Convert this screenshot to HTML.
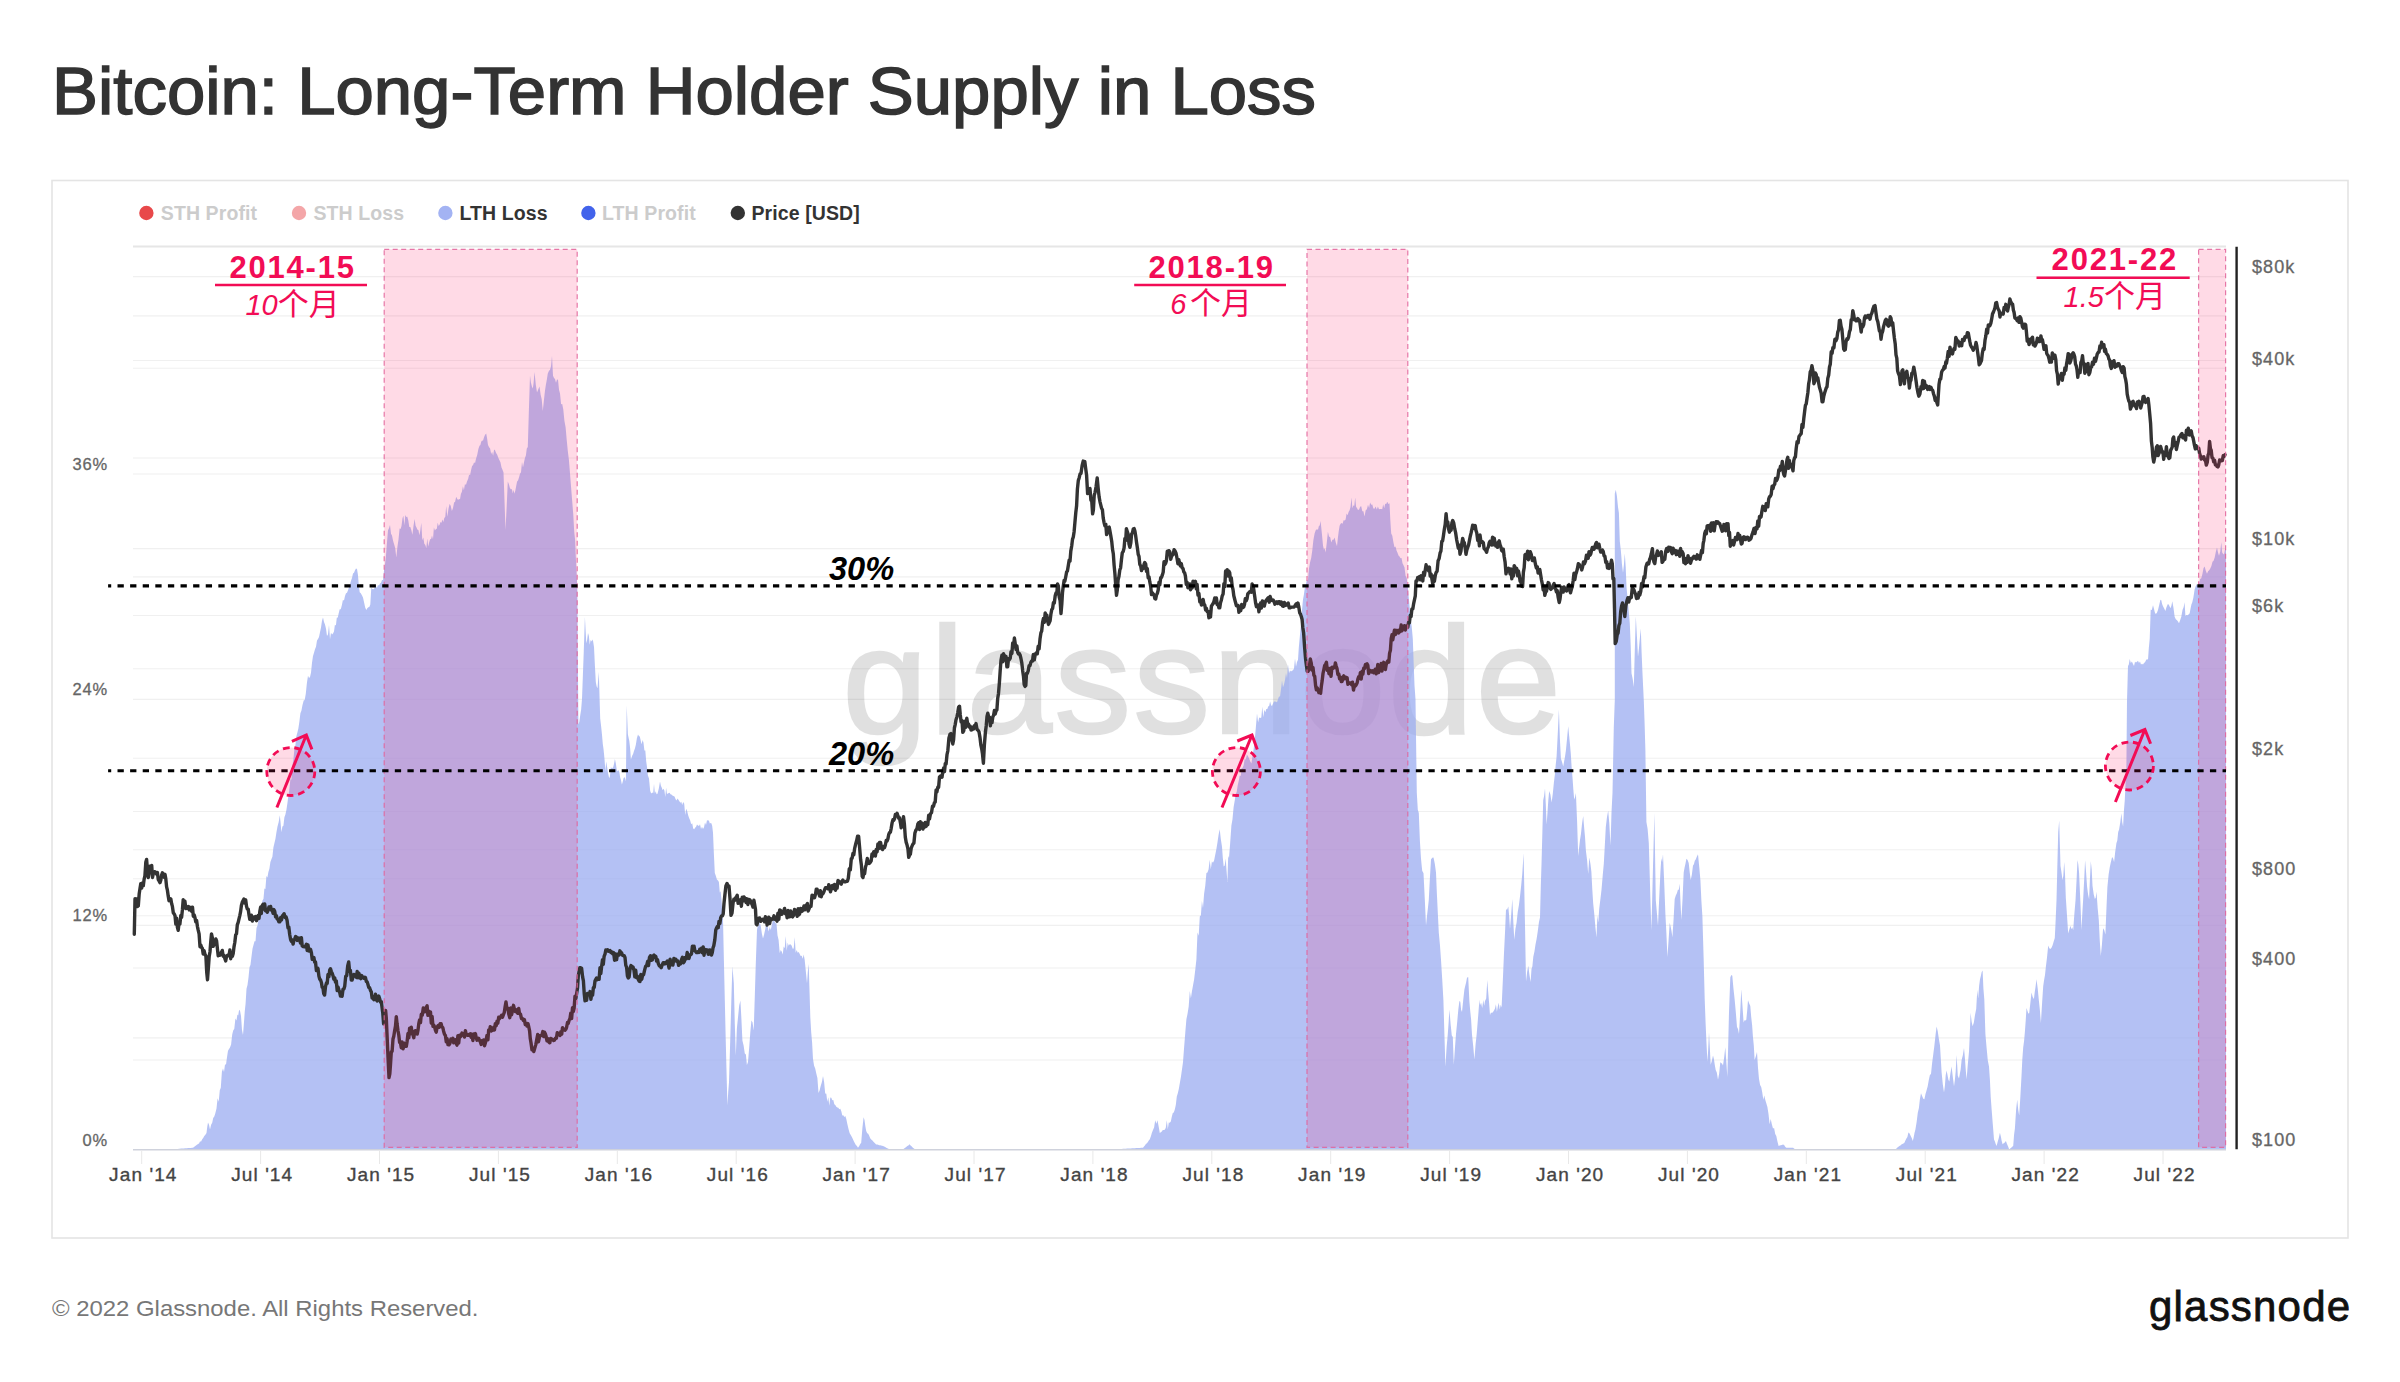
<!DOCTYPE html>
<html lang="en"><head><meta charset="utf-8"><title>Bitcoin: Long-Term Holder Supply in Loss</title>
<style>
html,body{margin:0;padding:0;background:#fff;}
body{width:2400px;height:1382px;overflow:hidden;position:relative;font-family:"Liberation Sans", sans-serif;}
svg{position:absolute;left:0;top:0;display:block;}
text{font-family:"Liberation Sans", sans-serif;}
.cjk{font-family:"Liberation Sans", "Noto Sans CJK SC", sans-serif;}
.ax{fill:#666;stroke:#666;stroke-width:0.3px;font-size:16.5px;letter-spacing:0.85px;}
.rx{fill:#666;stroke:#666;stroke-width:0.3px;font-size:18px;letter-spacing:1.1px;}
.xl{fill:#444;stroke:#444;stroke-width:0.35px;font-size:19px;letter-spacing:1.1px;text-anchor:middle;}
.lg{font-size:19.5px;font-weight:bold;letter-spacing:0.1px;}
.yr{fill:#f20c55;font-size:31px;font-weight:bold;letter-spacing:1.8px;}
.mo{fill:#f20c55;font-size:29px;font-style:italic;}
.mo tspan{font-style:normal;font-size:31px;}
.pc{fill:#000;font-size:32.6px;font-weight:bold;font-style:italic;}
</style></head><body>
<svg width="2400" height="1382" viewBox="0 0 2400 1382">
<rect x="0" y="0" width="2400" height="1382" fill="#fff"/>
<text id="title" x="52" y="113.7" font-size="66.5" fill="#333" stroke="#333" stroke-width="1.5" textLength="1264" lengthAdjust="spacingAndGlyphs">Bitcoin: Long-Term Holder Supply in Loss</text>
<rect x="52" y="180.5" width="2296" height="1057.5" fill="none" stroke="#e4e4e4" stroke-width="1.6"/>
<circle cx="146.4" cy="213" r="7.2" fill="#e8484a"/>
<text class="lg" x="160.8" y="220" fill="#ccc">STH Profit</text>
<circle cx="299" cy="213" r="7.2" fill="#f4a6a8"/>
<text class="lg" x="313.5" y="220" fill="#ccc">STH Loss</text>
<circle cx="445.4" cy="213" r="7.2" fill="#a3b3f3"/>
<text class="lg" x="459.4" y="220" fill="#333">LTH Loss</text>
<circle cx="588.4" cy="213" r="7.2" fill="#4263eb"/>
<text class="lg" x="602" y="220" fill="#ccc">LTH Profit</text>
<circle cx="737.8" cy="213" r="7.2" fill="#333"/>
<text class="lg" x="751.5" y="220" fill="#333">Price [USD]</text>
<g stroke="#f0f0f0" stroke-width="1.1">
<line x1="133" x2="2226" y1="276.6" y2="276.6"/>
<line x1="133" x2="2226" y1="315.9" y2="315.9"/>
<line x1="133" x2="2226" y1="360.5" y2="360.5"/>
<line x1="133" x2="2226" y1="368.2" y2="368.2"/>
<line x1="133" x2="2226" y1="458" y2="458"/>
<line x1="133" x2="2226" y1="474" y2="474"/>
<line x1="133" x2="2226" y1="548.6" y2="548.6"/>
<line x1="133" x2="2226" y1="576.9" y2="576.9"/>
<line x1="133" x2="2226" y1="615.5" y2="615.5"/>
<line x1="133" x2="2226" y1="668.8" y2="668.8"/>
<line x1="133" x2="2226" y1="699.4" y2="699.4"/>
<line x1="133" x2="2226" y1="758.3" y2="758.3"/>
<line x1="133" x2="2226" y1="811.5" y2="811.5"/>
<line x1="133" x2="2226" y1="849.8" y2="849.8"/>
<line x1="133" x2="2226" y1="878.8" y2="878.8"/>
<line x1="133" x2="2226" y1="915.7" y2="915.7"/>
<line x1="133" x2="2226" y1="925.4" y2="925.4"/>
<line x1="133" x2="2226" y1="968" y2="968"/>
<line x1="133" x2="2226" y1="1037.9" y2="1037.9"/>
<line x1="133" x2="2226" y1="1060" y2="1060"/>
</g>
<line x1="133" x2="2226" y1="246.5" y2="246.5" stroke="#e6e6e6" stroke-width="2.2"/>
<text x="842.5" y="733" font-size="153" fill="#000" stroke="#000" stroke-width="2.6" opacity="0.118" letter-spacing="2.6" id="wm">glassnode</text>
<g fill="#9bacf0" fill-opacity="0.75"><path d="M133.3 1150.0 L134.3 1150.0 L135.3 1150.0 L136.3 1150.0 L137.3 1149.9 L138.3 1149.9 L139.3 1149.9 L140.2 1149.9 L141.2 1149.9 L142.2 1149.9 L143.2 1149.9 L144.2 1149.9 L145.2 1149.8 L146.2 1149.8 L147.2 1149.8 L148.2 1149.8 L149.2 1149.8 L150.2 1149.8 L151.2 1149.8 L152.1 1149.7 L153.1 1149.7 L154.1 1149.7 L155.1 1149.7 L156.1 1149.7 L157.1 1149.7 L158.1 1149.7 L159.1 1149.6 L160.1 1149.6 L161.1 1149.6 L162.1 1149.6 L163.1 1149.6 L164.0 1149.6 L165.0 1149.6 L166.0 1149.6 L167.0 1149.5 L168.0 1149.5 L169.0 1149.5 L170.0 1149.5 L171.0 1149.4 L172.0 1149.3 L173.0 1149.3 L174.0 1149.2 L175.0 1149.1 L176.0 1149.0 L177.0 1149.0 L178.0 1148.9 L179.0 1148.8 L180.0 1148.7 L181.0 1148.6 L182.0 1148.6 L183.0 1148.5 L184.0 1148.4 L185.0 1148.3 L186.0 1148.2 L187.0 1148.2 L188.0 1148.1 L189.0 1148.0 L190.0 1147.9 L191.0 1147.9 L192.0 1147.8 L193.0 1147.7 L194.0 1147.0 L195.0 1146.3 L196.0 1145.6 L197.0 1144.7 L198.0 1144.1 L199.0 1143.6 L200.0 1141.4 L201.1 1141.5 L202.2 1139.3 L203.2 1138.1 L204.3 1136.1 L205.4 1134.7 L206.5 1133.0 L207.2 1127.3 L208.0 1122.4 L209.0 1124.8 L210.0 1129.4 L211.1 1124.8 L212.2 1122.7 L213.2 1118.0 L214.3 1116.6 L215.4 1112.9 L216.5 1108.6 L217.6 1098.3 L218.7 1101.8 L219.8 1090.2 L220.8 1087.8 L221.9 1071.8 L223.0 1068.5 L224.0 1072.1 L225.0 1064.4 L226.0 1064.6 L227.0 1057.2 L228.0 1050.8 L229.0 1049.1 L230.0 1047.4 L231.1 1044.4 L232.2 1034.4 L233.2 1030.5 L234.3 1028.8 L235.4 1018.6 L236.5 1020.6 L237.4 1014.5 L238.2 1015.5 L239.1 1009.8 L240.0 1010.8 L241.0 1015.9 L242.0 1030.1 L243.0 1035.0 L243.9 1023.6 L244.8 1010.9 L245.6 1003.5 L246.5 988.8 L247.5 984.9 L248.5 977.4 L249.5 967.2 L250.5 964.7 L251.5 956.6 L252.5 948.7 L253.5 944.9 L254.5 941.2 L255.5 941.2 L256.5 927.9 L257.5 925.6 L258.5 919.8 L259.5 915.6 L260.5 909.8 L261.5 906.1 L262.5 900.6 L263.5 898.7 L264.4 888.5 L265.4 889.0 L266.4 876.1 L267.4 877.5 L268.4 872.0 L269.4 868.8 L270.4 861.9 L271.4 859.2 L272.4 856.8 L273.4 847.6 L274.4 843.2 L275.4 838.9 L276.4 832.4 L277.5 826.4 L278.7 822.1 L279.8 815.2 L280.6 822.7 L281.4 832.3 L282.4 826.6 L283.4 825.8 L284.4 817.2 L285.4 814.5 L286.4 810.1 L287.4 803.3 L288.4 795.7 L289.4 789.1 L290.4 779.3 L291.4 779.5 L292.4 765.4 L293.4 759.7 L294.4 749.0 L295.4 745.2 L296.4 736.3 L297.4 732.6 L298.4 728.3 L299.4 721.6 L300.4 713.2 L301.4 710.7 L302.5 704.9 L303.7 700.5 L304.7 699.9 L305.8 693.8 L306.9 682.9 L308.0 675.7 L309.0 678.0 L310.0 677.1 L311.0 672.8 L312.0 662.8 L313.0 656.1 L314.0 652.8 L315.0 649.2 L316.0 646.8 L317.0 640.5 L318.0 639.1 L319.0 637.1 L320.0 632.2 L321.0 627.6 L322.0 620.8 L323.0 617.5 L324.0 621.9 L325.0 624.6 L326.0 628.7 L327.0 636.0 L328.0 634.3 L329.0 624.9 L330.0 639.2 L331.0 632.7 L332.0 634.6 L333.0 633.4 L334.0 631.5 L334.9 624.7 L335.9 625.6 L336.8 617.7 L337.8 617.5 L338.7 613.3 L339.7 609.2 L340.8 609.3 L341.9 605.1 L342.9 600.1 L344.0 600.4 L345.0 595.9 L346.0 593.3 L347.0 592.8 L348.0 590.2 L349.0 587.3 L350.0 584.4 L351.0 580.8 L352.0 578.1 L353.0 573.4 L354.0 572.7 L355.0 570.2 L356.0 568.4 L357.0 569.1 L357.9 574.4 L358.8 585.1 L359.7 592.3 L360.8 593.3 L361.9 595.2 L363.0 597.5 L364.1 602.5 L365.2 607.6 L366.3 610.1 L367.3 608.3 L368.3 607.3 L369.3 606.9 L370.3 604.4 L371.3 587.5 L372.3 588.9 L373.2 589.2 L374.2 588.7 L375.1 585.3 L376.1 586.8 L377.0 587.8 L378.0 584.9 L379.0 585.4 L380.0 583.4 L381.0 582.7 L382.0 580.1 L383.0 579.9 L384.0 570.5 L385.0 564.4 L386.0 555.0 L387.0 542.2 L388.0 530.3 L389.0 528.2 L390.0 524.9 L391.0 533.7 L392.0 535.4 L393.0 540.5 L394.1 544.3 L395.2 548.0 L396.3 557.4 L397.4 546.9 L398.5 539.6 L399.6 528.4 L400.6 529.1 L401.5 526.0 L402.5 518.3 L403.4 515.8 L404.4 525.3 L405.3 514.9 L406.3 517.0 L407.3 516.8 L408.3 520.4 L409.3 526.9 L410.3 527.0 L411.3 529.9 L412.4 534.7 L413.5 526.0 L414.6 518.9 L415.6 525.8 L416.5 527.4 L417.5 529.7 L418.4 530.0 L419.4 535.3 L420.3 530.4 L421.3 522.7 L422.3 540.3 L423.3 537.6 L424.3 543.7 L425.3 545.1 L426.3 548.0 L427.3 538.4 L428.2 546.6 L429.2 542.3 L430.1 539.2 L431.1 538.9 L432.0 535.5 L433.0 539.3 L433.9 527.5 L434.9 530.6 L435.8 529.2 L436.8 528.7 L437.7 522.7 L438.7 525.9 L439.6 524.7 L440.5 522.1 L441.5 522.8 L442.4 519.5 L443.4 522.1 L444.3 518.0 L445.3 516.7 L446.2 506.0 L447.3 516.7 L448.5 508.8 L449.6 504.1 L450.7 505.7 L451.9 511.0 L453.0 508.0 L454.1 502.4 L455.1 501.7 L456.2 496.8 L457.1 498.8 L458.1 500.0 L459.0 498.9 L460.0 499.2 L460.9 493.9 L461.9 491.7 L462.9 486.3 L463.9 490.3 L464.9 484.3 L466.0 484.8 L467.0 481.6 L468.1 479.1 L469.1 474.7 L470.1 474.9 L471.2 469.6 L472.1 466.0 L473.1 464.9 L474.1 462.3 L475.0 463.2 L476.1 458.5 L477.2 455.1 L478.4 449.0 L479.5 445.8 L480.4 445.1 L481.2 441.8 L482.1 440.6 L483.0 440.8 L484.1 436.9 L485.1 434.8 L486.2 433.5 L487.1 438.6 L488.0 445.0 L489.1 447.3 L490.1 448.6 L491.2 454.0 L492.1 451.8 L493.1 455.8 L494.1 449.4 L495.0 450.3 L496.1 453.0 L497.2 454.7 L498.4 458.0 L499.5 460.2 L500.5 462.6 L501.5 467.4 L502.5 469.7 L503.5 472.4 L504.5 500.7 L505.5 529.9 L506.6 508.3 L507.8 481.5 L508.9 484.3 L509.9 487.9 L511.0 489.5 L511.9 488.9 L512.8 493.5 L513.6 489.7 L514.5 493.7 L515.4 490.2 L516.2 485.9 L517.1 481.6 L518.0 480.4 L519.0 477.5 L520.0 473.7 L521.0 472.2 L522.0 461.9 L523.0 467.5 L524.0 462.2 L525.0 457.8 L525.9 455.6 L526.8 448.5 L527.8 447.1 L528.9 410.1 L530.0 375.7 L530.9 382.5 L531.9 386.5 L532.8 388.6 L533.6 383.0 L534.5 372.1 L535.8 384.8 L537.0 392.6 L538.2 389.5 L539.5 386.4 L540.6 394.5 L541.7 399.2 L542.8 410.9 L543.9 400.6 L545.0 390.4 L545.9 384.7 L546.9 379.2 L547.8 373.4 L548.9 371.0 L550.0 369.7 L551.0 366.2 L552.0 356.0 L553.0 375.8 L554.0 378.1 L555.0 379.1 L556.0 382.7 L557.0 379.6 L558.0 379.7 L559.0 389.8 L560.0 393.4 L561.1 404.3 L562.2 404.1 L563.3 409.4 L564.4 420.8 L565.6 427.3 L566.7 439.7 L567.8 450.9 L568.9 459.7 L570.0 473.3 L571.1 487.6 L572.2 501.3 L573.3 514.9 L574.2 531.6 L575.1 539.8 L576.0 561.1 L577.3 586.7 L578.4 724.3 L579.3 722.1 L580.2 715.6 L581.1 710.1 L582.0 699.1 L582.9 675.0 L583.7 653.2 L584.9 616.9 L586.3 643.2 L587.1 640.0 L588.0 632.9 L588.9 636.3 L589.7 644.8 L590.6 640.1 L591.4 641.4 L592.3 639.4 L593.1 641.2 L594.0 647.1 L594.9 665.5 L595.8 682.0 L596.6 686.2 L597.5 688.3 L598.8 671.9 L600.2 718.6 L601.0 725.2 L601.9 733.8 L602.8 744.0 L603.6 749.7 L604.5 758.9 L605.4 771.2 L606.2 761.4 L607.1 767.0 L608.0 773.1 L608.9 777.0 L609.7 778.1 L610.9 767.1 L612.0 768.4 L613.2 767.3 L614.0 763.9 L614.9 759.1 L615.8 763.3 L616.7 769.5 L617.6 771.3 L618.4 770.0 L619.3 771.9 L620.2 777.6 L621.0 780.2 L621.9 784.4 L622.8 781.6 L623.6 778.1 L624.8 777.3 L625.9 781.2 L626.7 705.5 L627.9 734.6 L629.3 741.0 L630.1 748.1 L630.9 759.5 L632.3 755.4 L633.1 753.9 L634.0 751.1 L634.9 748.4 L635.8 744.9 L636.9 738.3 L638.0 734.4 L638.9 735.9 L639.8 736.6 L640.6 740.0 L641.5 744.2 L642.7 740.1 L643.5 742.7 L644.4 750.6 L645.3 750.5 L646.2 761.3 L647.0 767.1 L647.9 775.6 L649.0 778.4 L650.2 791.1 L651.2 793.6 L652.3 792.5 L653.2 793.0 L654.0 784.0 L654.9 793.6 L655.8 791.3 L656.6 794.3 L657.5 793.7 L658.8 788.4 L660.0 781.5 L660.9 785.7 L661.8 787.8 L662.7 790.3 L663.5 788.8 L664.4 790.6 L665.3 796.9 L666.1 787.8 L667.0 793.9 L667.9 793.5 L668.8 793.1 L669.6 792.8 L670.5 794.3 L671.4 794.4 L672.4 795.5 L673.4 796.0 L674.5 796.4 L675.5 799.1 L676.5 800.6 L677.5 798.6 L678.4 799.8 L679.4 801.3 L680.3 802.7 L681.3 801.8 L682.2 805.0 L683.2 802.1 L684.2 803.8 L685.2 815.0 L686.2 808.8 L687.2 811.3 L688.2 815.6 L689.2 818.2 L690.2 820.6 L691.2 824.2 L692.2 823.2 L693.2 828.4 L694.2 829.2 L695.1 827.7 L696.1 826.8 L697.0 824.5 L698.0 825.4 L699.0 825.9 L700.0 824.2 L701.0 829.1 L702.0 826.7 L703.0 829.0 L704.0 827.3 L705.0 822.6 L706.0 824.9 L707.0 820.2 L708.0 820.6 L708.9 820.6 L709.8 823.4 L710.6 823.0 L711.5 823.4 L712.2 826.1 L713.0 832.7 L713.9 854.2 L714.8 872.9 L715.9 875.9 L716.9 879.5 L718.0 880.4 L718.9 882.1 L719.8 892.4 L720.6 891.2 L721.5 900.0 L722.2 910.3 L723.0 919.7 L723.9 960.4 L724.8 999.6 L725.6 1034.5 L726.4 1066.7 L727.4 1105.6 L728.2 1092.5 L729.0 1082.3 L730.4 1034.0 L731.4 998.0 L732.4 966.2 L733.8 983.0 L734.8 1023.8 L735.8 1055.8 L736.9 1028.3 L738.0 1017.4 L739.2 1005.6 L740.4 1000.6 L741.4 1018.7 L742.4 1040.6 L743.6 1045.4 L744.8 1053.4 L745.9 1054.6 L746.9 1065.1 L748.0 1061.9 L749.1 1048.7 L750.3 1032.4 L751.4 1020.4 L752.5 1022.3 L753.7 1030.6 L754.7 999.3 L755.7 966.4 L757.0 929.7 L757.9 925.5 L758.8 926.3 L759.7 922.1 L760.8 926.3 L761.9 933.8 L763.0 938.5 L764.1 934.6 L765.3 929.0 L766.4 922.4 L767.5 925.8 L768.6 931.6 L769.7 927.1 L770.8 930.1 L771.9 924.6 L773.0 920.2 L774.1 919.7 L775.3 923.4 L776.4 922.5 L777.5 935.3 L778.6 940.1 L779.7 952.9 L780.7 950.1 L781.7 951.5 L782.7 954.5 L783.7 946.5 L784.7 948.2 L785.7 935.9 L786.7 950.8 L787.7 942.8 L788.7 945.8 L789.7 944.2 L790.7 944.5 L791.7 945.7 L792.7 948.7 L793.7 948.6 L794.7 937.2 L795.7 952.7 L796.7 950.0 L797.7 952.7 L798.7 952.1 L799.7 954.1 L800.7 955.9 L801.7 955.7 L802.7 958.8 L803.7 954.4 L804.7 960.0 L805.9 972.0 L807.0 983.3 L807.9 970.9 L808.7 963.9 L809.5 990.3 L810.3 1016.9 L811.2 1032.2 L812.1 1042.6 L813.0 1059.1 L814.1 1065.8 L815.2 1068.4 L816.3 1073.5 L817.4 1077.9 L818.5 1093.0 L819.6 1090.5 L820.7 1086.1 L821.9 1082.1 L823.0 1076.1 L824.1 1081.9 L825.2 1093.5 L826.3 1093.7 L827.3 1101.8 L828.3 1097.3 L829.3 1105.8 L830.3 1097.5 L831.3 1097.7 L832.3 1100.2 L833.3 1099.9 L834.3 1104.2 L835.3 1105.1 L836.3 1106.7 L837.3 1107.4 L838.3 1107.8 L839.3 1109.2 L840.3 1108.8 L841.3 1111.3 L842.3 1115.4 L843.3 1115.2 L844.3 1117.0 L845.3 1116.1 L846.3 1119.0 L847.4 1124.2 L848.5 1129.0 L849.6 1133.0 L850.6 1134.7 L851.6 1136.4 L852.6 1138.4 L853.6 1140.8 L854.6 1142.7 L855.7 1144.7 L856.9 1146.0 L858.0 1147.7 L859.1 1146.2 L860.1 1144.3 L861.2 1142.8 L862.4 1128.1 L863.6 1117.2 L864.5 1119.9 L865.3 1125.9 L866.2 1130.9 L867.2 1133.3 L868.2 1133.7 L869.2 1135.8 L870.2 1138.2 L871.2 1139.4 L872.2 1140.2 L873.2 1141.6 L874.2 1142.4 L875.2 1143.4 L876.2 1144.5 L877.2 1144.5 L878.1 1144.8 L879.1 1145.2 L880.1 1145.3 L881.1 1145.5 L882.0 1145.8 L883.0 1146.0 L884.1 1146.5 L885.2 1147.1 L886.2 1147.7 L887.3 1148.3 L888.4 1148.8 L889.5 1149.4 L890.5 1149.4 L891.4 1149.4 L892.4 1149.4 L893.4 1149.4 L894.3 1149.4 L895.3 1149.4 L896.2 1149.4 L897.2 1149.4 L898.2 1149.4 L899.1 1149.4 L900.1 1149.4 L901.1 1149.4 L902.0 1149.4 L903.0 1149.4 L904.1 1148.6 L905.2 1147.7 L906.2 1146.9 L907.3 1145.9 L908.4 1145.4 L909.5 1144.3 L910.6 1145.5 L911.8 1146.6 L912.9 1147.7 L913.9 1148.5 L915.0 1149.2 L916.0 1150.0 L916.0 1150 L133.3 1150 Z"/><path d="M1100.0 1150.0 L1101.0 1150.0 L1102.0 1149.9 L1103.0 1149.9 L1104.0 1149.8 L1105.0 1149.8 L1106.0 1149.7 L1107.0 1149.7 L1108.0 1149.6 L1109.0 1149.6 L1110.0 1149.5 L1111.0 1149.5 L1112.0 1149.4 L1113.0 1149.4 L1114.0 1149.3 L1115.0 1149.3 L1116.0 1149.2 L1117.0 1149.2 L1118.0 1149.1 L1119.0 1149.1 L1120.0 1149.0 L1121.0 1148.9 L1122.0 1148.9 L1123.0 1148.8 L1124.0 1148.8 L1125.0 1148.7 L1126.0 1148.7 L1127.0 1148.6 L1128.0 1148.6 L1129.0 1148.5 L1130.0 1148.4 L1131.0 1148.4 L1132.0 1148.3 L1133.0 1148.3 L1134.0 1148.2 L1135.0 1148.2 L1136.0 1148.1 L1137.0 1148.0 L1138.0 1148.0 L1139.0 1147.9 L1140.0 1147.9 L1141.0 1147.8 L1142.0 1147.8 L1143.0 1147.7 L1144.0 1146.5 L1144.9 1145.4 L1145.9 1143.9 L1146.9 1143.3 L1147.9 1141.9 L1148.8 1140.6 L1149.8 1139.3 L1150.9 1136.3 L1151.9 1132.7 L1153.0 1129.9 L1154.1 1127.5 L1155.2 1120.3 L1156.4 1123.8 L1157.5 1120.3 L1158.7 1126.7 L1159.8 1132.9 L1160.8 1132.3 L1161.8 1131.6 L1162.8 1129.9 L1163.8 1130.0 L1164.8 1129.7 L1165.8 1127.8 L1166.8 1120.3 L1167.8 1129.1 L1168.8 1122.6 L1169.8 1122.8 L1170.8 1121.6 L1171.8 1116.8 L1172.8 1113.1 L1173.8 1112.5 L1174.8 1109.6 L1175.8 1105.1 L1176.8 1096.5 L1177.8 1093.2 L1178.8 1089.0 L1179.8 1083.3 L1180.9 1077.0 L1181.9 1070.1 L1183.0 1062.2 L1184.1 1047.4 L1185.3 1032.6 L1186.4 1019.2 L1187.5 1014.1 L1188.7 1006.6 L1189.8 991.1 L1190.9 998.2 L1191.9 991.5 L1193.0 985.6 L1194.1 979.6 L1195.3 969.6 L1196.4 959.6 L1197.5 932.4 L1198.7 935.8 L1199.8 916.6 L1200.9 915.2 L1201.9 900.9 L1203.0 908.0 L1204.1 893.8 L1205.3 885.6 L1206.4 872.9 L1207.5 872.4 L1208.6 869.2 L1209.7 859.8 L1210.8 869.3 L1211.9 861.4 L1213.0 862.7 L1214.1 860.6 L1215.3 854.6 L1216.4 849.0 L1217.5 842.2 L1218.6 834.7 L1219.7 829.3 L1220.8 839.0 L1222.0 846.7 L1222.8 857.7 L1223.7 866.4 L1224.7 865.5 L1225.7 858.5 L1226.6 871.3 L1227.4 882.0 L1228.2 856.1 L1229.0 858.1 L1230.2 842.4 L1231.4 825.6 L1232.5 819.2 L1233.6 807.2 L1234.7 800.7 L1235.7 794.0 L1236.7 792.1 L1237.7 785.3 L1238.7 781.1 L1239.7 775.6 L1240.7 775.9 L1241.7 768.1 L1242.7 767.8 L1243.7 764.9 L1244.7 758.9 L1245.8 759.4 L1246.9 754.5 L1248.0 756.2 L1249.1 758.6 L1250.3 761.6 L1251.4 763.6 L1252.5 756.1 L1253.6 749.4 L1254.7 740.3 L1255.8 727.9 L1257.0 713.4 L1258.1 722.4 L1259.2 717.4 L1260.2 718.0 L1261.3 717.6 L1262.3 706.7 L1263.3 717.2 L1264.3 709.8 L1265.3 712.3 L1266.3 709.0 L1267.3 709.0 L1268.2 706.6 L1269.2 705.8 L1270.1 701.6 L1271.1 705.3 L1272.0 705.9 L1273.0 703.5 L1274.0 701.5 L1275.0 701.6 L1276.0 701.8 L1277.0 702.2 L1278.0 699.3 L1279.0 696.5 L1280.0 696.6 L1281.0 689.3 L1282.0 680.6 L1283.0 687.3 L1284.0 684.5 L1285.0 680.0 L1286.0 672.9 L1287.0 677.9 L1288.0 664.4 L1289.0 673.3 L1290.0 670.6 L1291.0 671.6 L1292.0 670.7 L1293.0 670.3 L1294.0 668.6 L1295.0 658.6 L1296.0 666.8 L1297.0 661.9 L1298.0 659.8 L1298.8 647.8 L1299.6 639.1 L1300.7 627.5 L1301.9 611.2 L1303.0 599.4 L1303.9 594.8 L1304.7 588.6 L1305.6 586.3 L1306.7 579.8 L1307.9 580.6 L1309.0 568.6 L1310.1 562.3 L1311.2 558.0 L1312.3 550.3 L1313.4 540.1 L1314.6 533.4 L1315.7 530.2 L1316.9 529.3 L1318.0 529.7 L1318.9 525.9 L1319.7 525.5 L1320.6 521.1 L1321.8 532.7 L1323.0 545.4 L1323.9 549.7 L1324.7 548.3 L1325.6 552.6 L1326.7 543.4 L1327.9 531.7 L1329.0 536.5 L1330.2 537.2 L1331.3 542.4 L1332.4 539.8 L1333.5 539.7 L1334.6 537.6 L1335.8 542.6 L1337.0 546.3 L1337.9 537.8 L1338.7 531.5 L1339.6 525.7 L1340.6 523.7 L1341.6 523.1 L1342.6 523.8 L1343.6 520.2 L1344.6 520.5 L1345.6 519.4 L1346.6 513.5 L1347.6 515.2 L1348.6 512.0 L1349.6 510.3 L1350.5 506.9 L1351.5 497.6 L1352.4 508.3 L1353.3 505.5 L1354.3 505.7 L1355.2 497.5 L1356.1 506.8 L1357.1 508.3 L1358.0 510.1 L1359.1 509.5 L1360.1 506.7 L1361.2 506.3 L1362.3 511.2 L1363.4 511.3 L1364.5 516.5 L1365.7 510.3 L1366.9 509.3 L1368.0 504.7 L1369.1 508.1 L1370.1 502.6 L1371.2 504.7 L1372.3 504.4 L1373.4 508.6 L1374.5 508.8 L1375.6 506.5 L1376.8 509.4 L1377.9 506.5 L1379.0 509.3 L1380.1 508.9 L1381.2 509.1 L1382.2 509.3 L1383.2 504.2 L1384.2 508.3 L1385.2 503.7 L1386.2 503.9 L1387.3 501.8 L1388.4 504.1 L1389.5 503.2 L1390.3 519.7 L1391.2 533.6 L1392.3 535.7 L1393.4 542.2 L1394.5 547.2 L1395.5 546.4 L1396.5 550.6 L1397.5 552.8 L1398.5 555.4 L1399.5 556.6 L1400.5 558.3 L1401.5 558.0 L1402.5 563.3 L1403.5 565.3 L1404.5 567.4 L1405.6 576.1 L1406.7 577.9 L1407.8 586.2 L1408.7 596.8 L1409.5 605.8 L1410.6 619.2 L1411.7 626.5 L1412.8 638.8 L1413.7 663.9 L1414.5 685.6 L1415.5 699.5 L1416.8 792.7 L1417.8 809.7 L1418.8 813.1 L1419.9 840.9 L1421.0 858.8 L1422.2 870.8 L1423.5 873.3 L1424.8 899.6 L1426.0 925.4 L1426.9 916.8 L1427.9 908.3 L1428.8 899.7 L1429.9 878.2 L1431.0 859.6 L1432.2 857.8 L1433.5 857.4 L1434.8 863.7 L1436.0 872.5 L1436.9 894.0 L1437.9 914.8 L1438.8 932.7 L1439.9 944.6 L1441.0 959.8 L1442.2 978.9 L1443.4 999.9 L1444.4 1033.9 L1445.4 1066.7 L1446.6 1047.6 L1447.8 1034.0 L1448.6 1022.8 L1449.4 1009.4 L1450.6 1024.0 L1451.8 1035.4 L1452.8 1037.1 L1453.8 1064.7 L1454.9 1048.8 L1456.0 1033.9 L1457.1 1023.1 L1458.3 1009.7 L1459.4 1000.9 L1460.3 1001.7 L1461.1 1009.7 L1462.0 1012.0 L1463.2 1000.2 L1464.4 989.6 L1465.3 985.8 L1466.1 982.4 L1467.0 977.7 L1468.2 977.1 L1469.4 1001.6 L1470.3 1011.8 L1471.1 1019.5 L1472.0 1034.4 L1473.2 1046.1 L1474.4 1059.4 L1475.6 1044.2 L1476.7 1034.0 L1477.6 1023.0 L1478.5 1011.8 L1479.4 999.8 L1480.0 1005.2 L1481.1 1002.8 L1482.2 1008.1 L1483.3 1000.0 L1484.2 1005.7 L1485.0 1001.1 L1486.2 998.4 L1487.3 980.0 L1488.2 992.3 L1489.1 1002.7 L1490.0 1015.1 L1491.0 1012.5 L1492.0 1012.9 L1493.0 1011.9 L1494.0 1010.6 L1495.0 1008.6 L1495.9 1004.3 L1496.9 1011.7 L1497.8 1006.4 L1498.8 1002.8 L1499.7 1009.4 L1500.7 1004.7 L1501.6 1007.5 L1502.8 981.3 L1504.0 953.0 L1505.0 932.7 L1506.0 909.5 L1507.2 909.4 L1508.3 906.5 L1509.2 916.4 L1510.0 929.0 L1511.2 914.3 L1512.3 899.0 L1513.3 921.7 L1514.3 939.8 L1515.4 929.1 L1516.6 922.5 L1517.7 912.2 L1518.9 905.3 L1520.0 896.4 L1521.2 885.2 L1522.3 873.6 L1523.6 853.3 L1525.0 924.8 L1526.0 981.5 L1527.2 971.4 L1528.3 965.7 L1529.4 974.5 L1530.6 982.1 L1531.5 968.9 L1532.4 966.2 L1533.3 956.7 L1534.4 951.8 L1535.5 944.5 L1536.6 939.0 L1537.7 931.8 L1538.9 922.5 L1540.0 917.2 L1540.8 886.4 L1541.6 860.9 L1542.4 831.3 L1543.2 800.2 L1544.1 796.0 L1545.0 788.5 L1545.8 804.6 L1546.6 824.4 L1547.5 812.5 L1548.3 800.4 L1549.2 790.9 L1550.4 794.4 L1551.6 802.5 L1552.8 793.7 L1553.9 782.6 L1554.8 775.2 L1555.7 765.0 L1556.6 756.6 L1557.8 732.9 L1558.9 709.6 L1559.9 739.1 L1560.9 758.4 L1562.1 762.3 L1563.2 766.4 L1564.1 761.6 L1565.0 756.8 L1565.9 750.4 L1567.1 738.3 L1568.2 726.3 L1569.1 735.6 L1569.9 743.5 L1570.8 753.5 L1571.6 766.7 L1572.5 777.5 L1573.3 788.9 L1574.2 799.6 L1575.1 796.9 L1575.9 793.1 L1577.1 821.4 L1578.2 856.0 L1579.1 847.8 L1580.0 839.9 L1580.9 834.2 L1582.1 823.2 L1583.2 815.9 L1584.1 826.9 L1585.0 836.8 L1585.9 850.8 L1587.1 860.2 L1588.2 873.9 L1589.3 857.6 L1590.5 864.3 L1591.4 872.1 L1592.3 889.6 L1593.2 903.5 L1594.3 914.2 L1595.4 927.3 L1596.5 937.4 L1597.4 915.4 L1598.3 922.6 L1599.2 909.0 L1600.3 900.1 L1601.5 889.7 L1602.7 875.7 L1603.8 863.8 L1604.8 845.8 L1605.8 827.0 L1607.0 817.1 L1608.2 810.8 L1609.3 823.3 L1610.5 845.5 L1611.5 812.6 L1612.5 792.8 L1613.8 727.1 L1614.8 700.1 L1614.8 493.7 L1615.8 489.8 L1616.9 496.0 L1618.0 506.9 L1618.9 512.9 L1619.8 541.2 L1620.9 551.1 L1621.9 563.7 L1623.0 572.7 L1623.9 564.9 L1624.8 553.5 L1625.7 567.1 L1626.5 586.9 L1627.6 598.4 L1628.7 610.9 L1629.8 623.6 L1630.7 645.6 L1631.5 673.2 L1632.7 679.0 L1633.8 687.0 L1634.8 650.3 L1635.8 616.2 L1636.9 636.0 L1638.0 656.7 L1638.9 648.8 L1639.9 637.7 L1640.8 628.5 L1641.6 652.3 L1642.4 671.5 L1643.8 700.8 L1644.6 723.2 L1645.4 750.8 L1646.4 822.0 L1647.6 828.8 L1648.8 843.1 L1649.6 870.4 L1650.4 899.0 L1651.4 930.4 L1652.2 898.9 L1653.0 866.5 L1654.4 813.0 L1655.8 900.3 L1656.9 913.0 L1658.0 925.6 L1659.2 898.2 L1660.4 872.4 L1661.3 858.3 L1662.1 861.9 L1663.0 854.2 L1664.2 882.5 L1665.4 913.9 L1666.4 933.4 L1667.4 957.1 L1668.6 940.1 L1669.7 922.8 L1670.6 926.5 L1671.5 930.9 L1672.4 937.2 L1673.6 919.0 L1674.7 899.1 L1675.8 895.6 L1677.0 893.0 L1677.9 889.8 L1678.8 889.7 L1679.7 883.7 L1680.6 904.7 L1681.4 920.1 L1682.6 898.3 L1683.7 872.6 L1684.6 867.6 L1685.5 863.6 L1686.4 858.8 L1687.6 860.1 L1688.7 863.0 L1689.7 872.2 L1690.7 880.1 L1691.8 875.1 L1693.0 865.6 L1693.9 864.2 L1694.8 860.8 L1695.7 859.6 L1696.8 856.8 L1698.0 854.2 L1699.2 866.5 L1700.4 880.1 L1701.4 901.1 L1702.4 916.6 L1703.6 956.7 L1704.7 999.1 L1705.6 1022.9 L1706.5 1043.6 L1707.4 1061.7 L1708.2 1049.6 L1709.0 1032.4 L1709.8 1047.6 L1710.7 1064.8 L1711.8 1060.9 L1713.0 1055.4 L1713.9 1059.0 L1714.8 1065.0 L1715.7 1069.9 L1716.8 1072.4 L1718.0 1079.8 L1719.2 1073.2 L1720.3 1062.3 L1721.2 1063.1 L1722.1 1063.8 L1723.0 1065.4 L1724.2 1056.9 L1725.3 1047.3 L1726.3 1061.3 L1727.3 1077.1 L1728.2 1044.9 L1729.0 1012.2 L1730.3 977.4 L1731.3 975.1 L1732.3 975.8 L1733.4 988.1 L1734.6 999.1 L1735.8 1012.1 L1737.0 1027.0 L1738.0 1029.1 L1739.0 1034.1 L1740.2 1012.6 L1741.3 989.2 L1742.4 1004.8 L1743.6 1022.5 L1744.5 1020.3 L1745.4 1020.4 L1746.3 1019.8 L1747.2 1010.5 L1748.0 1000.2 L1749.2 1003.6 L1750.3 1006.1 L1751.2 1017.1 L1752.1 1025.1 L1753.0 1037.4 L1753.8 1045.6 L1754.6 1059.9 L1755.8 1056.6 L1757.0 1052.1 L1758.0 1068.0 L1759.0 1078.9 L1760.1 1085.0 L1761.2 1087.0 L1762.3 1092.7 L1763.3 1099.8 L1764.3 1095.6 L1765.3 1100.1 L1766.3 1103.2 L1767.4 1107.0 L1768.5 1114.0 L1769.6 1124.3 L1770.7 1118.9 L1771.9 1124.5 L1773.0 1128.4 L1774.1 1128.1 L1775.2 1134.0 L1776.3 1136.0 L1777.4 1141.2 L1778.6 1146.0 L1779.7 1145.6 L1780.8 1145.2 L1781.9 1144.9 L1783.0 1144.4 L1784.1 1145.0 L1785.2 1146.7 L1786.3 1147.7 L1787.3 1147.7 L1788.2 1147.7 L1789.2 1147.7 L1790.1 1147.7 L1791.1 1147.7 L1792.0 1147.7 L1793.0 1147.7 L1794.0 1148.5 L1795.0 1149.2 L1796.0 1150.0 L1796.0 1150 L1100.0 1150 Z"/><path d="M1894.5 1150.0 L1895.5 1149.2 L1896.5 1148.4 L1897.4 1147.6 L1898.4 1146.8 L1899.4 1146.0 L1900.4 1145.4 L1901.4 1144.6 L1902.4 1143.9 L1903.4 1143.5 L1904.4 1142.7 L1905.4 1140.5 L1906.4 1138.4 L1907.4 1137.0 L1908.4 1132.4 L1909.4 1133.3 L1910.5 1135.6 L1911.7 1138.1 L1912.8 1140.9 L1913.7 1137.3 L1914.5 1133.1 L1915.4 1129.4 L1916.6 1122.3 L1917.8 1112.8 L1918.9 1108.1 L1919.9 1099.3 L1921.0 1093.2 L1922.1 1096.0 L1923.3 1098.8 L1924.4 1099.3 L1925.5 1094.1 L1926.6 1090.2 L1927.7 1086.2 L1928.8 1080.0 L1929.9 1074.9 L1931.0 1074.0 L1932.1 1063.3 L1933.3 1054.1 L1934.4 1045.6 L1935.5 1035.2 L1936.6 1026.4 L1937.7 1030.9 L1938.8 1038.4 L1940.0 1045.5 L1940.8 1058.8 L1941.6 1072.3 L1942.8 1084.3 L1944.0 1092.4 L1944.9 1085.8 L1945.7 1075.2 L1946.6 1070.5 L1947.5 1075.1 L1948.4 1079.8 L1949.3 1081.5 L1950.4 1073.6 L1951.6 1066.6 L1952.8 1076.7 L1954.0 1086.2 L1954.9 1079.7 L1955.7 1071.3 L1956.6 1055.1 L1957.8 1075.8 L1959.0 1078.6 L1959.9 1073.6 L1960.7 1069.2 L1961.6 1060.1 L1962.8 1055.5 L1964.0 1047.9 L1964.9 1057.9 L1965.7 1069.2 L1966.6 1079.2 L1967.8 1064.4 L1969.0 1051.8 L1969.8 1033.5 L1970.6 1012.8 L1971.6 1021.4 L1972.6 1026.3 L1973.8 1022.7 L1975.0 1015.1 L1976.2 1009.0 L1977.3 990.0 L1978.2 998.4 L1979.1 986.0 L1980.0 979.3 L1980.9 975.8 L1981.7 972.0 L1982.6 970.4 L1983.4 988.6 L1984.3 999.2 L1985.4 1034.0 L1986.6 1047.7 L1987.8 1060.6 L1989.0 1066.6 L1989.9 1079.4 L1990.7 1096.8 L1991.6 1108.9 L1992.8 1124.2 L1994.0 1139.6 L1994.9 1141.4 L1995.7 1143.9 L1996.6 1146.0 L1997.7 1141.8 L1998.8 1137.9 L1999.9 1132.8 L2000.8 1136.3 L2001.7 1140.9 L2002.6 1144.3 L2003.7 1143.2 L2004.8 1142.4 L2005.9 1141.0 L2007.0 1144.0 L2008.1 1146.6 L2009.2 1149.4 L2010.2 1148.6 L2011.2 1147.7 L2012.2 1146.8 L2013.2 1146.0 L2014.1 1134.6 L2014.9 1128.4 L2016.1 1109.7 L2017.2 1099.8 L2018.2 1109.4 L2019.2 1115.4 L2020.3 1097.7 L2021.5 1076.0 L2022.3 1059.7 L2023.2 1047.4 L2024.1 1040.7 L2024.9 1031.7 L2025.7 1020.8 L2026.5 1007.9 L2027.4 1010.8 L2028.3 1013.4 L2029.2 1013.3 L2030.3 1003.4 L2031.5 992.6 L2032.7 997.1 L2033.9 998.9 L2034.8 991.7 L2035.6 986.6 L2036.5 979.2 L2037.7 988.6 L2038.9 1000.8 L2039.9 1010.3 L2040.9 1023.0 L2042.1 1003.1 L2043.2 986.2 L2044.1 979.9 L2045.0 975.0 L2045.9 966.5 L2047.0 957.4 L2048.2 945.4 L2049.3 948.3 L2050.4 949.1 L2051.5 947.8 L2052.6 945.2 L2053.7 941.5 L2054.8 937.9 L2055.7 919.3 L2056.5 900.3 L2057.3 868.0 L2058.2 832.3 L2059.2 820.4 L2060.5 866.0 L2061.5 872.5 L2062.5 880.0 L2063.3 875.7 L2064.2 861.9 L2065.0 874.0 L2065.8 897.4 L2067.0 915.5 L2068.2 933.4 L2069.3 929.5 L2070.5 925.8 L2071.4 929.2 L2072.3 927.3 L2073.2 930.3 L2074.3 914.8 L2075.5 900.6 L2076.5 881.3 L2077.5 860.0 L2078.3 864.6 L2079.1 873.1 L2080.3 899.9 L2081.5 930.1 L2082.3 913.7 L2083.1 900.6 L2084.1 881.2 L2085.1 860.3 L2086.1 872.4 L2087.1 887.1 L2088.1 894.6 L2089.1 899.3 L2089.9 879.8 L2090.8 861.2 L2091.7 869.4 L2092.5 885.8 L2093.7 894.3 L2094.8 898.8 L2095.7 898.0 L2096.5 891.8 L2097.7 908.5 L2098.8 920.0 L2099.8 941.2 L2100.8 955.9 L2101.9 945.1 L2103.1 928.3 L2104.2 930.0 L2105.4 934.6 L2106.4 909.6 L2107.4 886.9 L2108.6 874.8 L2109.8 866.9 L2110.9 861.9 L2112.1 857.1 L2113.1 858.4 L2114.1 862.1 L2115.2 852.0 L2116.4 843.2 L2117.3 840.4 L2118.2 832.1 L2119.1 829.5 L2120.2 822.7 L2121.4 813.3 L2122.2 822.0 L2123.1 826.6 L2123.9 811.1 L2124.8 800.0 L2125.6 782.0 L2126.4 766.0 L2127.0 701.1 L2128.0 666.0 L2128.8 664.6 L2129.7 658.9 L2130.8 663.1 L2131.9 661.4 L2133.0 664.0 L2134.0 666.0 L2135.0 661.8 L2136.0 662.5 L2137.0 661.7 L2138.0 660.8 L2139.0 663.1 L2140.0 661.4 L2141.0 664.4 L2142.0 663.8 L2143.0 664.5 L2144.0 663.1 L2145.0 662.2 L2146.0 660.2 L2147.0 658.9 L2148.0 659.7 L2148.8 648.2 L2149.7 639.0 L2150.7 609.7 L2151.8 609.9 L2153.0 605.3 L2153.9 608.5 L2154.8 612.2 L2155.7 614.1 L2156.8 613.0 L2158.0 610.1 L2159.2 604.9 L2160.4 599.7 L2161.3 600.2 L2162.1 604.1 L2163.0 606.2 L2164.2 608.5 L2165.4 610.9 L2166.3 607.8 L2167.1 605.7 L2168.0 603.7 L2169.2 605.5 L2170.4 608.3 L2171.4 605.7 L2172.3 601.3 L2173.5 608.0 L2174.7 616.9 L2175.8 619.2 L2177.0 620.2 L2178.0 621.4 L2179.0 623.3 L2180.2 620.0 L2181.3 616.8 L2182.5 610.0 L2183.7 607.1 L2184.6 602.3 L2185.4 615.9 L2186.3 614.9 L2187.4 615.2 L2188.6 614.6 L2189.7 613.3 L2190.6 608.3 L2191.4 604.4 L2192.3 602.3 L2193.4 597.5 L2194.6 589.4 L2195.7 586.2 L2196.9 583.9 L2198.0 586.5 L2199.1 583.6 L2200.2 579.1 L2201.3 578.2 L2202.4 574.1 L2203.5 568.2 L2204.6 566.4 L2205.8 570.7 L2207.0 573.8 L2208.1 571.3 L2209.2 570.2 L2210.3 568.5 L2211.4 566.0 L2212.5 561.8 L2213.6 560.7 L2214.7 557.5 L2215.9 551.6 L2217.0 547.4 L2218.0 552.4 L2219.0 555.7 L2220.2 551.7 L2221.3 542.3 L2222.2 552.5 L2223.0 553.7 L2224.0 554.5 L2225.0 549.6 L2226.0 548.6 L2226.0 1150.0 L2226.0 1150 L1894.5 1150 Z"/></g>
<line x1="133" x2="2226" y1="1149.7" y2="1149.7" stroke="#cfd2dc" stroke-width="1.4"/>
<g stroke="#e8e8e8" stroke-width="1">
<line x1="141.7" x2="141.7" y1="1150.5" y2="1164"/>
<line x1="260.6" x2="260.6" y1="1150.5" y2="1164"/>
<line x1="379.5" x2="379.5" y1="1150.5" y2="1164"/>
<line x1="498.4" x2="498.4" y1="1150.5" y2="1164"/>
<line x1="617.3" x2="617.3" y1="1150.5" y2="1164"/>
<line x1="736.2" x2="736.2" y1="1150.5" y2="1164"/>
<line x1="855.1" x2="855.1" y1="1150.5" y2="1164"/>
<line x1="974.0" x2="974.0" y1="1150.5" y2="1164"/>
<line x1="1092.9" x2="1092.9" y1="1150.5" y2="1164"/>
<line x1="1211.8" x2="1211.8" y1="1150.5" y2="1164"/>
<line x1="1330.7" x2="1330.7" y1="1150.5" y2="1164"/>
<line x1="1449.6" x2="1449.6" y1="1150.5" y2="1164"/>
<line x1="1568.5" x2="1568.5" y1="1150.5" y2="1164"/>
<line x1="1687.4" x2="1687.4" y1="1150.5" y2="1164"/>
<line x1="1806.3" x2="1806.3" y1="1150.5" y2="1164"/>
<line x1="1925.2" x2="1925.2" y1="1150.5" y2="1164"/>
<line x1="2044.1" x2="2044.1" y1="1150.5" y2="1164"/>
<line x1="2163.0" x2="2163.0" y1="1150.5" y2="1164"/>
</g>
<polyline points="134.3,934.2 135.0,898.7 135.8,903.0 136.7,898.9 137.5,906.5 138.3,905.8 139.2,893.7 140.0,888.5 140.8,883.6 141.7,888.1 142.5,882.9 143.3,885.7 144.1,879.4 144.9,876.0 145.8,862.3 146.6,859.5 147.4,869.3 148.3,877.6 149.2,871.6 150.0,866.1 150.8,872.6 151.7,865.4 152.5,877.5 153.3,873.6 154.1,871.8 154.9,871.6 155.8,872.7 156.6,874.0 157.4,872.5 158.3,879.7 159.2,881.1 160.0,882.6 160.8,880.3 161.6,875.0 162.4,872.8 163.3,874.3 164.2,877.2 165.0,874.3 165.8,878.8 166.6,886.8 167.4,890.2 168.2,895.9 169.0,900.7 169.9,900.4 170.8,898.9 171.6,903.5 172.4,906.4 173.3,912.8 174.2,913.9 175.0,915.7 175.8,924.0 176.6,918.3 177.4,927.3 178.2,930.3 179.0,923.2 179.9,924.1 180.8,915.5 181.6,917.4 182.4,909.9 183.2,899.7 184.0,904.9 184.9,901.2 185.8,908.5 186.6,908.0 187.4,908.3 188.3,906.6 189.2,909.9 190.0,907.3 190.8,907.5 191.7,911.3 192.5,907.2 193.3,916.2 194.2,914.9 195.0,917.8 195.8,921.9 196.6,920.5 197.4,926.3 198.2,930.2 199.1,933.8 200.0,946.7 200.8,945.0 201.6,947.5 202.4,948.4 203.2,954.1 204.1,950.6 205.0,954.3 205.9,956.1 206.7,972.0 207.5,979.7 208.3,968.9 209.2,956.4 210.0,951.7 210.7,942.3 211.5,933.9 212.3,937.5 213.2,946.3 214.1,942.3 214.9,944.4 215.8,938.9 216.6,940.9 217.4,948.6 218.2,955.7 219.0,953.4 219.8,955.2 220.7,954.4 221.5,952.2 222.3,950.4 223.2,956.2 224.0,955.4 224.8,958.4 225.7,960.9 226.5,956.7 227.3,955.5 228.2,955.0 229.0,955.8 229.9,949.9 230.7,958.7 231.5,954.2 232.4,956.2 233.2,953.5 234.0,946.9 234.8,942.5 235.7,934.8 236.5,933.8 237.3,924.9 238.2,922.4 239.0,918.9 239.8,915.6 240.6,911.6 241.4,905.5 242.3,902.1 243.1,900.7 243.9,899.1 244.8,903.0 245.7,899.9 246.5,906.3 247.3,908.9 248.2,909.1 249.0,915.0 249.8,919.4 250.6,917.8 251.4,915.2 252.3,921.1 253.1,917.4 253.9,917.0 254.8,919.0 255.7,916.6 256.5,920.7 257.3,918.2 258.1,915.6 259.0,918.4 259.8,911.6 260.6,907.3 261.3,913.6 262.1,905.9 263.0,904.3 263.8,909.1 264.7,903.9 265.5,910.8 266.4,910.9 267.2,912.2 268.1,910.2 268.9,907.1 269.7,908.9 270.6,906.4 271.4,910.1 272.2,909.8 273.1,913.3 273.9,909.6 274.7,911.3 275.6,916.9 276.4,915.7 277.2,919.0 278.1,919.7 278.9,921.8 279.8,921.8 280.6,917.7 281.5,919.9 282.3,916.1 283.1,915.2 284.1,913.7 285.1,917.4 286.1,917.1 287.1,920.5 288.0,927.7 288.8,926.9 289.7,934.5 290.6,939.5 291.4,941.4 292.2,939.7 293.1,944.1 293.9,940.5 294.8,938.7 295.6,936.6 296.4,937.0 297.2,940.4 298.0,939.8 298.9,938.1 299.7,940.2 300.5,943.1 301.4,937.6 302.2,945.9 303.0,946.5 303.9,946.7 304.7,946.8 305.5,946.2 306.4,944.3 307.2,950.5 308.0,944.9 308.9,951.1 309.7,949.0 310.5,949.3 311.4,952.6 312.2,959.4 313.0,958.5 313.9,957.5 314.7,962.3 315.5,962.0 316.4,970.6 317.2,969.0 318.0,968.4 318.9,976.1 319.7,979.2 320.5,979.9 321.4,982.5 322.2,987.4 322.9,987.4 323.7,993.6 324.6,995.0 325.5,986.6 326.4,983.1 327.2,983.3 328.0,974.5 328.9,976.7 329.7,970.1 330.5,968.7 331.4,971.8 332.2,973.3 333.0,975.7 333.8,979.2 334.7,977.9 335.5,982.3 336.3,981.0 337.2,990.6 338.0,987.0 338.8,989.6 339.6,992.0 340.5,996.1 341.3,994.0 342.1,996.3 343.0,989.2 343.9,989.1 344.7,986.3 345.7,976.4 346.7,975.6 347.7,965.8 348.7,961.9 349.6,971.4 350.4,970.3 351.3,980.0 352.1,980.1 353.0,977.0 353.9,974.4 354.7,974.8 355.5,975.3 356.4,977.4 357.2,971.4 358.0,977.7 358.9,973.2 359.7,976.0 360.7,978.7 361.7,975.5 362.6,977.1 363.6,978.2 364.6,977.3 365.4,977.4 366.3,981.4 367.1,981.8 367.9,984.3 368.8,987.6 369.6,987.7 370.5,990.5 371.3,991.8 372.1,998.0 373.0,996.4 373.8,999.7 374.7,999.5 375.5,994.2 376.3,999.0 377.2,1000.9 378.0,998.6 378.8,996.0 379.6,998.5 380.5,1002.0 381.3,1001.7 382.1,1007.9 382.8,1013.4 383.6,1023.9 384.6,1018.4 385.6,1010.5 386.3,1018.1 387.0,1034.0 388.0,1056.9 389.0,1077.6 389.8,1073.8 390.5,1064.3 391.3,1051.8 392.1,1051.4 393.0,1039.0 393.8,1036.2 394.6,1031.0 395.5,1026.1 396.3,1016.7 397.1,1024.1 398.0,1030.7 398.8,1035.3 399.6,1042.3 400.5,1043.0 401.3,1047.8 402.1,1041.9 403.0,1048.8 403.8,1046.7 404.6,1043.2 405.5,1046.4 406.3,1046.4 407.1,1041.5 408.0,1033.4 408.8,1037.9 409.6,1028.2 410.5,1033.9 411.3,1027.3 412.1,1033.7 413.0,1034.7 413.8,1037.7 414.7,1031.0 415.5,1030.7 416.3,1031.8 417.2,1034.1 418.0,1030.1 418.8,1023.6 419.6,1019.9 420.5,1022.6 421.3,1014.3 422.3,1015.1 423.3,1007.9 424.2,1008.4 425.2,1011.7 426.2,1007.5 427.1,1005.8 427.9,1015.4 428.8,1011.2 429.6,1014.0 430.5,1012.1 431.3,1023.1 432.1,1016.5 433.0,1026.3 433.8,1025.2 434.6,1026.8 435.4,1030.2 436.2,1032.2 437.2,1027.0 438.2,1025.5 439.2,1027.2 440.2,1023.7 441.1,1023.6 441.9,1026.8 442.8,1027.5 443.6,1031.2 444.5,1034.2 445.4,1035.4 446.3,1041.9 447.1,1038.7 448.0,1044.7 448.9,1044.9 449.9,1043.5 450.9,1039.1 451.9,1040.4 452.9,1038.3 453.7,1042.9 454.5,1040.9 455.4,1039.7 456.2,1043.2 457.0,1045.2 457.9,1035.6 458.7,1043.1 459.5,1035.3 460.4,1036.7 461.2,1035.5 462.0,1033.1 462.9,1034.5 463.7,1035.2 464.5,1037.1 465.4,1030.7 466.2,1034.3 467.0,1035.1 467.9,1035.4 468.7,1034.5 469.5,1035.4 470.4,1033.7 471.2,1037.3 472.0,1034.3 472.9,1040.6 473.7,1033.9 474.5,1035.1 475.4,1033.6 476.2,1037.6 477.0,1040.2 477.9,1039.5 478.7,1038.3 479.5,1040.3 480.4,1041.9 481.2,1044.5 482.0,1040.8 482.9,1043.4 483.7,1039.9 484.5,1045.9 485.4,1042.8 486.2,1039.5 487.0,1035.4 487.9,1039.9 488.7,1029.9 489.5,1031.0 490.3,1026.6 491.2,1031.0 492.0,1029.9 492.8,1030.2 493.7,1027.3 494.5,1029.9 495.3,1023.7 496.2,1025.8 497.0,1021.3 497.8,1023.2 498.7,1017.3 499.5,1018.7 500.5,1017.0 501.5,1015.3 502.5,1017.2 503.5,1014.5 504.3,1012.3 505.2,1006.3 506.0,1001.9 506.9,1008.7 507.9,1008.2 508.8,1014.3 509.8,1017.7 510.7,1008.0 511.6,1014.7 512.6,1010.2 513.5,1005.3 514.5,1009.5 515.3,1011.6 516.2,1009.8 517.0,1012.4 517.8,1013.3 518.7,1008.5 519.5,1013.5 520.5,1014.2 521.5,1018.5 522.4,1018.5 523.4,1020.5 524.4,1019.6 525.3,1024.6 526.2,1023.3 527.0,1026.1 527.9,1023.5 528.8,1027.0 529.6,1030.8 530.3,1038.8 531.1,1043.4 532.0,1049.9 532.9,1048.2 533.8,1051.5 534.8,1048.1 535.8,1044.6 536.8,1039.4 537.7,1034.5 538.5,1041.7 539.4,1037.5 540.2,1035.6 541.1,1035.3 541.9,1035.2 542.8,1031.6 543.6,1036.6 544.5,1032.2 545.3,1033.8 546.1,1036.3 547.0,1040.8 547.8,1038.5 548.8,1042.0 549.8,1042.8 550.7,1038.4 551.7,1039.0 552.7,1039.6 553.6,1040.5 554.5,1040.1 555.4,1038.1 556.4,1038.2 557.3,1032.6 558.2,1034.3 559.1,1033.7 560.0,1035.5 560.8,1031.8 561.7,1034.2 562.5,1027.6 563.3,1029.2 564.2,1029.2 565.0,1030.3 565.8,1029.3 566.6,1027.3 567.5,1022.5 568.3,1023.3 569.1,1020.4 570.0,1018.4 570.8,1013.1 571.6,1018.5 572.5,1007.8 573.3,1011.5 574.1,1008.4 575.0,996.2 575.8,998.6 576.6,993.8 577.5,988.3 578.3,975.7 579.1,971.2 579.8,967.8 580.6,967.8 581.6,968.3 582.6,976.9 583.4,980.8 584.2,993.2 585.0,1000.8 585.8,994.5 586.6,1000.2 587.5,993.4 588.3,994.3 589.2,994.9 590.0,991.6 590.9,999.3 591.7,994.0 592.6,995.1 593.4,987.5 594.2,987.5 595.0,981.0 595.8,979.3 596.6,978.0 597.5,979.6 598.3,979.1 599.1,979.3 600.0,967.7 600.8,973.6 601.6,966.8 602.5,959.6 603.3,964.4 604.1,956.4 605.0,954.2 605.8,950.0 606.6,951.0 607.5,949.7 608.3,951.3 609.2,950.9 610.0,950.5 610.9,952.5 611.7,951.9 612.6,953.6 613.6,952.6 614.6,960.2 615.6,954.0 616.6,959.7 617.4,954.2 618.3,954.7 619.1,955.1 619.9,950.8 620.8,952.3 621.6,952.7 622.5,955.3 623.3,955.5 624.1,955.6 625.0,957.5 625.8,965.4 626.6,967.2 627.4,975.9 628.2,978.0 629.1,977.1 630.1,968.3 631.0,965.5 632.0,967.7 633.0,967.0 634.0,970.2 634.8,976.9 635.7,970.1 636.5,977.6 637.4,976.2 638.2,979.2 639.1,981.1 640.0,981.5 640.8,974.5 641.7,979.4 642.6,975.4 643.6,974.6 644.6,970.1 645.6,966.4 646.6,965.6 647.6,961.6 648.5,965.5 649.5,957.3 650.5,955.7 651.4,960.3 652.3,959.9 653.1,955.9 654.0,955.1 654.9,957.4 655.8,956.4 656.6,961.1 657.5,959.6 658.3,963.6 659.2,965.7 660.2,966.3 661.2,967.6 662.2,964.9 663.2,962.6 664.0,962.7 664.9,963.9 665.7,962.6 666.5,963.1 667.4,961.0 668.2,964.4 669.1,968.1 670.1,959.1 671.0,964.8 672.0,963.2 672.9,965.1 673.9,958.4 674.8,961.0 675.8,959.3 676.7,961.2 677.7,960.9 678.6,965.3 679.6,962.8 680.5,963.9 681.5,959.6 682.5,957.3 683.4,962.8 684.4,961.5 685.3,957.4 686.3,958.8 687.2,952.4 688.2,956.5 689.0,958.4 689.9,955.0 690.7,954.6 691.5,953.9 692.4,946.2 693.2,947.2 694.0,946.2 694.9,950.8 695.7,951.6 696.5,952.5 697.3,952.5 698.2,951.5 699.0,952.5 699.8,949.2 700.7,950.8 701.5,948.2 702.3,952.8 703.2,947.0 704.0,955.2 704.8,950.4 705.7,949.5 706.5,950.4 707.3,950.1 708.2,954.2 709.0,954.1 709.8,949.9 710.7,951.8 711.5,955.1 712.3,952.5 713.0,948.0 713.8,945.6 714.8,939.9 715.8,929.8 716.6,927.8 717.4,926.5 718.2,927.7 719.0,921.4 719.9,923.4 720.7,917.6 721.5,915.9 722.4,915.9 723.2,913.8 724.0,903.4 724.8,895.8 725.9,885.9 727.0,883.5 728.0,886.0 729.0,886.0 730.0,898.6 731.0,915.4 732.0,913.0 733.0,903.5 733.9,899.1 734.7,900.4 735.5,897.9 736.4,897.0 737.2,895.3 738.1,903.2 738.9,902.1 739.8,902.9 740.6,899.7 741.4,906.2 742.2,897.3 743.0,901.0 744.0,897.0 745.0,898.3 746.0,902.4 747.0,898.8 747.9,904.5 748.8,899.5 749.6,899.6 750.5,900.8 751.4,903.0 752.2,904.8 753.0,907.1 753.9,900.2 754.7,904.9 755.5,909.5 756.2,924.0 757.0,924.8 757.9,920.4 758.8,918.2 759.7,918.0 760.7,921.3 761.7,920.1 762.7,919.2 763.7,919.3 764.6,921.8 765.4,916.8 766.3,918.3 767.1,925.0 768.0,921.6 768.8,917.1 769.7,923.6 770.5,918.6 771.3,919.9 772.2,918.7 773.0,918.9 774.0,915.8 775.0,919.2 776.0,918.6 777.0,921.2 777.9,913.3 778.8,919.4 779.7,909.9 780.7,910.7 781.7,914.3 782.7,913.1 783.7,911.0 784.6,908.4 785.4,913.7 786.3,911.8 787.1,917.9 788.0,910.5 788.8,915.3 789.7,916.8 790.7,911.0 791.6,915.7 792.6,916.9 793.5,915.6 794.5,909.4 795.4,911.0 796.4,912.0 797.2,916.4 798.1,908.7 798.9,914.9 799.8,913.3 800.6,908.5 801.5,909.0 802.3,911.2 803.1,909.3 804.0,905.9 804.9,909.8 805.7,905.5 806.5,905.2 807.4,903.6 808.2,911.0 809.0,908.8 810.0,906.3 811.0,906.4 812.0,895.3 813.0,897.9 813.8,895.8 814.6,897.7 815.5,894.2 816.3,889.1 817.1,889.1 818.0,892.3 818.8,893.4 819.6,896.0 820.4,890.8 821.3,896.7 822.1,892.9 822.9,893.8 823.8,892.0 824.6,889.8 825.5,887.8 826.3,887.9 827.1,887.6 828.0,888.9 828.8,884.6 829.6,887.7 830.5,891.8 831.3,888.6 832.1,885.6 833.0,885.3 833.8,888.6 834.6,884.4 835.5,890.3 836.3,885.2 837.1,888.2 838.0,880.5 838.8,881.1 839.6,882.1 840.4,883.0 841.3,884.1 842.1,881.2 842.9,880.1 843.8,881.6 844.6,881.8 845.5,881.9 846.5,881.3 847.4,881.2 848.3,878.2 849.3,868.7 850.3,869.9 851.3,858.7 852.1,858.2 853.0,853.4 853.8,854.8 854.6,848.6 855.6,844.3 856.6,840.8 857.6,836.2 858.6,836.2 859.6,847.5 860.6,859.3 861.4,865.2 862.2,876.3 863.0,877.5 863.8,872.2 864.6,873.8 865.5,866.9 866.3,864.4 867.3,858.5 868.3,862.9 869.2,863.4 870.2,862.5 871.2,860.8 872.0,853.9 872.9,856.2 873.7,851.7 874.5,851.6 875.4,856.0 876.2,849.5 877.1,851.8 877.9,844.0 878.8,848.6 879.6,842.4 880.6,842.5 881.6,848.5 882.6,849.5 883.6,846.5 884.5,847.7 885.3,845.3 886.2,840.5 887.0,841.2 887.9,838.8 888.7,834.7 889.5,832.6 890.4,832.2 891.2,828.3 892.1,822.9 892.9,819.8 893.8,820.2 894.6,818.6 895.4,814.4 896.2,815.8 897.1,813.3 897.9,815.9 898.7,818.1 899.5,817.7 900.4,822.6 901.2,827.9 902.0,825.1 902.7,822.3 903.5,816.7 904.4,824.0 905.3,837.1 906.2,842.4 907.0,844.8 907.9,848.7 908.7,857.3 909.5,855.4 910.4,854.1 911.2,848.2 912.0,846.2 912.9,844.1 913.9,843.0 914.9,833.0 915.9,830.1 916.9,828.9 917.8,824.2 918.6,822.8 919.5,829.5 920.3,821.8 921.2,824.2 922.0,823.0 922.9,829.1 923.7,825.1 924.5,827.2 925.3,822.5 926.2,826.4 927.0,823.6 927.8,824.6 928.7,815.1 929.5,818.9 930.5,813.7 931.5,812.8 932.5,806.2 933.5,806.2 934.4,802.8 935.2,802.0 936.1,790.0 936.9,792.0 937.8,787.2 938.6,787.3 939.5,776.9 940.4,776.1 941.2,776.5 942.0,777.2 942.9,771.1 943.7,768.0 944.5,771.7 945.3,763.5 946.1,763.9 947.0,754.6 947.8,751.0 948.9,738.3 950.0,734.2 950.9,733.6 951.9,739.8 952.8,744.0 953.6,739.7 954.4,728.0 955.2,724.6 956.0,719.8 956.9,716.9 957.8,712.3 958.6,707.2 959.5,706.2 960.3,714.9 961.1,721.7 962.0,720.6 962.8,732.4 963.8,730.6 964.8,721.3 965.8,727.3 966.8,718.3 967.6,723.4 968.5,723.9 969.3,727.1 970.2,726.0 971.0,730.0 971.8,729.9 972.7,727.5 973.5,729.1 974.3,725.6 975.2,725.7 976.0,723.6 977.0,729.4 978.0,730.2 979.0,731.7 980.0,737.6 980.9,745.2 981.7,748.8 982.5,754.1 983.4,763.2 984.4,744.6 985.4,732.3 986.2,726.0 987.0,716.4 987.8,713.2 988.7,717.0 989.5,717.1 990.4,725.9 991.2,718.4 992.0,722.7 992.8,717.0 993.6,715.3 994.4,710.4 995.2,714.2 996.0,711.1 996.9,709.8 997.7,698.4 998.5,693.4 999.4,682.6 1000.2,670.5 1001.0,660.2 1001.9,655.3 1002.7,661.9 1003.5,653.8 1004.4,656.0 1005.2,660.2 1006.0,656.4 1006.9,666.9 1007.7,666.8 1008.5,658.8 1009.4,659.6 1010.2,658.4 1011.0,651.7 1011.9,653.4 1012.7,643.0 1013.5,646.6 1014.4,638.0 1015.2,643.4 1016.0,649.5 1016.9,645.9 1017.7,652.5 1018.5,654.0 1019.2,653.4 1020.0,654.8 1020.9,658.2 1021.8,662.9 1022.7,670.9 1023.5,676.5 1024.2,684.6 1025.0,686.4 1025.8,685.6 1026.5,673.5 1027.3,673.3 1028.2,670.9 1029.1,665.7 1030.0,665.7 1030.8,662.3 1031.7,660.9 1032.5,661.1 1033.3,654.5 1034.3,659.9 1035.3,653.9 1036.3,652.9 1037.3,653.8 1038.2,646.1 1039.1,648.9 1040.0,639.1 1040.9,632.9 1041.7,631.0 1042.6,622.3 1043.4,618.6 1044.3,622.3 1045.2,612.9 1046.0,617.5 1046.8,615.1 1047.7,621.5 1048.5,624.4 1049.3,622.6 1050.1,620.9 1050.9,614.1 1051.8,609.4 1052.6,608.6 1053.4,602.7 1054.3,603.0 1055.2,595.7 1056.0,593.0 1056.8,593.8 1057.5,584.0 1058.3,585.7 1059.2,596.9 1060.1,600.5 1061.0,613.6 1061.8,604.1 1062.5,592.5 1063.3,585.9 1064.1,580.5 1064.9,581.0 1065.8,576.5 1066.6,572.1 1067.4,571.0 1068.3,565.6 1069.2,560.1 1070.0,561.2 1070.8,551.1 1071.7,546.0 1072.5,539.4 1073.3,537.0 1074.1,531.7 1074.9,522.7 1075.8,512.5 1076.6,505.8 1077.4,489.1 1078.3,480.6 1079.2,477.7 1080.1,473.9 1081.0,473.6 1082.1,465.7 1083.2,461.1 1084.0,463.4 1084.8,461.5 1085.6,467.9 1086.6,475.3 1087.6,493.6 1088.4,490.9 1089.2,488.9 1090.0,488.6 1090.9,500.2 1091.7,500.2 1092.6,513.8 1093.4,509.8 1094.2,495.5 1095.0,492.6 1096.1,486.5 1097.2,477.9 1098.1,487.6 1099.1,496.9 1100.0,501.8 1100.8,505.2 1101.6,508.4 1102.4,509.6 1103.2,517.9 1104.0,522.3 1104.9,525.8 1105.8,524.3 1106.6,534.6 1107.5,532.3 1108.3,527.7 1109.2,527.1 1110.0,531.4 1110.8,535.9 1111.7,541.2 1112.5,549.1 1113.3,553.7 1114.1,565.1 1114.9,573.7 1115.7,585.1 1116.5,595.3 1117.3,589.9 1118.1,579.8 1118.9,576.7 1119.8,570.0 1120.6,567.8 1121.5,559.3 1122.3,552.7 1123.2,551.5 1124.1,547.9 1124.9,538.4 1125.7,540.5 1126.4,528.7 1127.2,531.2 1128.1,534.1 1129.0,544.1 1129.9,547.3 1130.8,543.0 1131.6,534.2 1132.5,532.7 1133.3,528.8 1134.1,528.6 1134.9,531.0 1135.7,536.1 1136.6,542.7 1137.4,548.0 1138.2,554.3 1139.0,556.4 1139.8,564.4 1140.7,566.0 1141.5,570.6 1142.3,567.1 1143.2,568.5 1144.0,564.5 1144.8,562.5 1145.7,564.1 1146.5,571.4 1147.3,568.7 1148.2,577.9 1149.0,576.8 1149.8,581.9 1150.7,586.4 1151.5,594.5 1152.3,592.8 1153.2,593.9 1154.0,594.7 1154.8,598.5 1155.7,599.0 1156.5,594.9 1157.3,593.5 1158.2,590.0 1159.0,582.3 1159.8,584.9 1160.7,577.6 1161.5,577.4 1162.3,575.2 1163.2,572.1 1164.0,561.8 1164.8,564.6 1165.6,563.4 1166.4,560.7 1167.3,551.2 1168.1,552.7 1168.9,550.7 1169.8,551.8 1170.7,559.3 1171.5,556.6 1172.4,555.0 1173.2,554.2 1174.1,549.7 1175.1,551.1 1176.1,553.5 1177.1,558.8 1177.9,563.7 1178.8,559.6 1179.7,564.2 1180.5,566.0 1181.3,563.5 1182.2,568.0 1183.0,568.4 1183.8,572.0 1184.6,572.7 1185.4,576.0 1186.3,584.2 1187.1,582.4 1187.9,587.7 1188.8,586.1 1189.7,583.9 1190.5,589.7 1191.3,586.8 1192.2,587.9 1193.0,581.1 1193.8,582.1 1194.6,582.5 1195.4,581.3 1196.3,588.8 1197.1,584.5 1198.0,595.0 1198.9,593.4 1199.8,601.8 1200.6,600.2 1201.4,605.0 1202.3,604.6 1203.1,599.4 1203.9,603.8 1204.8,605.1 1205.6,610.0 1206.4,608.3 1207.2,611.6 1208.1,611.4 1208.9,617.8 1209.7,615.1 1210.5,617.0 1211.4,606.2 1212.2,604.9 1213.1,603.5 1213.9,601.7 1214.8,598.0 1215.6,602.6 1216.4,598.0 1217.2,604.5 1218.1,604.3 1218.9,607.9 1219.7,607.9 1220.5,602.8 1221.4,600.0 1222.2,595.9 1223.1,594.1 1223.9,583.6 1224.8,586.7 1225.6,571.0 1226.4,571.0 1227.2,569.7 1228.1,576.1 1228.9,571.1 1229.7,572.8 1230.5,580.4 1231.3,577.9 1232.2,586.2 1233.0,589.5 1233.8,595.8 1234.7,599.2 1235.6,602.8 1236.4,605.7 1237.2,605.8 1238.1,605.4 1238.9,612.4 1239.7,609.5 1240.7,610.7 1241.7,604.4 1242.7,607.7 1243.7,606.9 1244.5,604.5 1245.3,598.8 1246.2,600.8 1247.0,598.9 1247.8,593.7 1248.7,592.9 1249.6,591.8 1250.4,591.9 1251.3,592.2 1252.1,584.0 1253.0,585.7 1253.8,589.7 1254.7,596.2 1255.6,602.9 1256.4,606.7 1257.2,606.5 1258.1,605.0 1258.9,611.8 1259.7,607.0 1260.6,603.0 1261.4,608.0 1262.4,600.9 1263.4,603.9 1264.3,606.1 1265.3,601.9 1266.3,600.1 1267.3,599.0 1268.2,597.7 1269.2,602.2 1270.1,596.5 1271.1,599.6 1272.0,600.4 1273.0,599.9 1273.9,601.0 1274.9,604.2 1275.8,602.6 1276.8,601.9 1277.7,603.5 1278.7,601.8 1279.6,601.8 1280.6,604.3 1281.5,602.1 1282.5,606.0 1283.4,606.3 1284.4,602.5 1285.3,605.4 1286.3,605.1 1287.3,603.9 1288.2,603.0 1289.2,607.8 1290.1,607.8 1291.1,607.2 1292.0,607.1 1293.0,607.1 1293.8,607.1 1294.7,606.4 1295.5,604.7 1296.3,603.7 1297.2,606.3 1298.0,603.1 1298.8,607.2 1299.7,612.8 1300.5,614.2 1301.3,616.5 1302.1,619.5 1302.8,627.4 1303.6,632.7 1304.6,647.2 1305.6,659.0 1306.4,665.4 1307.2,671.3 1308.0,671.4 1308.8,670.0 1309.5,665.6 1310.3,658.9 1311.2,662.8 1312.1,670.0 1313.0,667.6 1313.9,675.4 1314.7,676.2 1315.6,685.6 1316.4,689.9 1317.2,687.8 1318.0,689.9 1318.9,692.6 1319.7,692.1 1320.6,693.3 1321.4,685.9 1322.2,680.6 1323.0,673.5 1323.9,669.3 1324.7,665.4 1325.6,664.2 1326.4,662.3 1327.3,670.3 1328.2,668.4 1329.0,673.7 1330.0,668.4 1331.0,676.4 1332.0,667.2 1333.0,668.5 1333.8,667.0 1334.6,667.4 1335.4,662.9 1336.2,666.2 1337.0,668.6 1337.9,674.6 1338.8,674.1 1339.6,678.9 1340.4,677.0 1341.3,681.6 1342.1,681.3 1342.9,677.5 1343.8,675.9 1344.6,678.8 1345.4,677.2 1346.3,677.4 1347.1,677.8 1347.9,684.2 1348.8,683.4 1349.6,682.9 1350.6,683.0 1351.6,684.7 1352.5,682.2 1353.5,690.1 1354.5,685.0 1355.3,685.9 1356.2,684.8 1357.1,683.0 1357.9,679.1 1358.7,676.7 1359.6,678.1 1360.4,672.6 1361.2,679.0 1362.1,671.2 1362.9,674.1 1363.7,668.2 1364.6,668.4 1365.4,664.5 1366.2,664.4 1367.0,663.8 1367.8,665.3 1368.7,673.6 1369.5,671.7 1370.3,670.6 1371.2,671.1 1372.0,672.0 1372.8,670.9 1373.7,672.7 1374.5,671.3 1375.3,669.2 1376.2,673.9 1377.0,670.9 1377.8,664.5 1378.7,672.5 1379.5,668.4 1380.3,669.6 1381.2,663.4 1382.0,671.0 1382.8,666.2 1383.7,662.3 1384.5,665.0 1385.4,669.5 1386.2,664.6 1387.1,662.0 1387.9,660.8 1388.8,662.1 1389.6,653.1 1390.4,650.3 1391.2,638.7 1392.0,634.8 1392.8,639.7 1393.7,634.2 1394.5,630.1 1395.3,634.6 1396.2,630.3 1397.0,632.8 1397.8,630.6 1398.7,632.9 1399.5,630.0 1400.3,631.6 1401.2,624.9 1402.0,630.7 1402.8,626.6 1403.7,629.0 1404.5,625.7 1405.3,630.0 1406.2,626.3 1407.0,625.7 1407.8,627.2 1408.6,622.1 1409.4,622.9 1410.3,615.1 1411.1,616.6 1411.9,608.9 1412.8,608.9 1413.7,603.3 1414.5,599.7 1415.3,595.8 1416.0,581.0 1416.8,581.1 1417.7,577.6 1418.6,578.1 1419.5,576.6 1420.3,579.8 1421.2,575.8 1422.0,578.7 1422.8,580.9 1423.6,572.1 1424.4,575.4 1425.3,569.8 1426.1,564.8 1426.9,568.1 1427.8,568.1 1428.6,570.8 1429.4,567.1 1430.2,576.1 1431.1,574.0 1432.0,579.5 1432.8,584.0 1433.6,576.1 1434.4,581.3 1435.3,575.4 1436.1,572.5 1437.1,571.2 1438.1,560.8 1439.1,558.6 1440.1,553.0 1440.9,551.1 1441.8,541.4 1442.6,541.1 1443.4,536.0 1444.3,529.6 1445.2,524.4 1446.1,513.7 1446.9,522.3 1447.8,521.9 1448.6,529.1 1449.4,532.2 1450.2,530.0 1451.1,530.2 1451.9,522.9 1452.7,520.5 1453.7,522.9 1454.7,528.7 1455.7,533.2 1456.7,540.0 1457.5,543.9 1458.3,548.3 1459.2,545.1 1460.0,554.2 1460.9,551.3 1461.8,543.5 1462.7,538.4 1463.5,541.7 1464.3,542.6 1465.2,548.3 1466.0,554.4 1466.8,550.1 1467.7,547.5 1468.6,545.0 1469.4,540.6 1470.2,536.5 1471.1,532.9 1471.9,529.1 1472.7,525.1 1473.5,526.5 1474.3,528.4 1475.2,525.5 1476.0,530.4 1476.8,533.1 1477.7,540.4 1478.6,537.9 1479.4,545.9 1480.0,535.0 1480.8,540.7 1481.7,542.2 1482.5,541.8 1483.3,542.6 1484.1,548.4 1484.9,549.4 1485.8,550.5 1486.6,552.3 1487.4,548.7 1488.3,547.0 1489.2,542.8 1490.0,541.3 1490.8,542.8 1491.7,545.1 1492.5,537.3 1493.3,544.7 1494.2,538.1 1495.0,542.5 1495.8,546.1 1496.7,543.2 1497.5,547.4 1498.3,542.3 1499.2,540.9 1500.0,544.7 1500.8,546.6 1501.7,550.5 1502.5,551.2 1503.3,549.2 1504.2,556.8 1505.1,562.1 1506.0,573.8 1506.8,569.8 1507.7,570.1 1508.5,568.3 1509.3,570.2 1510.1,573.9 1510.9,569.0 1511.8,578.9 1512.6,572.6 1513.4,576.1 1514.2,565.7 1515.0,567.1 1515.9,571.8 1516.7,568.4 1517.6,575.9 1518.4,570.9 1519.3,575.3 1520.1,581.3 1520.9,582.1 1521.8,586.4 1522.6,586.5 1523.4,572.1 1524.2,567.5 1525.0,554.9 1525.9,554.2 1526.7,558.4 1527.6,551.2 1528.4,559.7 1529.3,554.6 1530.3,551.7 1531.3,554.5 1532.3,560.5 1533.3,560.3 1534.3,557.9 1535.3,563.5 1536.3,567.9 1537.3,566.8 1538.1,573.1 1538.9,569.9 1539.8,569.6 1540.6,574.5 1541.5,580.1 1542.3,583.8 1543.2,590.1 1544.0,587.5 1544.8,595.4 1545.6,592.2 1546.5,591.1 1547.3,586.8 1548.2,582.6 1549.0,583.3 1549.9,588.1 1550.8,589.4 1551.6,588.4 1552.4,587.9 1553.2,585.2 1554.1,583.6 1554.9,588.0 1555.7,589.0 1556.4,591.9 1557.2,590.4 1558.2,597.4 1559.2,602.5 1560.0,599.1 1560.8,592.4 1561.6,587.3 1562.4,587.9 1563.2,592.1 1564.1,586.9 1564.9,590.3 1565.7,589.2 1566.6,591.0 1567.4,588.5 1568.2,585.4 1569.0,584.6 1569.7,590.1 1570.5,592.8 1571.4,589.3 1572.3,586.4 1573.2,580.3 1574.0,573.3 1574.8,579.6 1575.7,574.4 1576.5,572.1 1577.4,568.7 1578.3,563.7 1579.2,564.3 1580.0,566.4 1580.8,566.3 1581.7,569.9 1582.5,567.2 1583.5,561.9 1584.5,563.7 1585.5,561.1 1586.5,555.1 1587.3,558.3 1588.2,558.2 1589.0,551.8 1589.8,555.3 1590.7,554.2 1591.5,550.6 1592.3,547.4 1593.2,547.5 1594.0,549.2 1594.8,547.5 1595.7,543.8 1596.5,542.5 1597.3,547.7 1598.2,547.1 1599.0,544.2 1599.8,548.6 1600.7,552.0 1601.5,551.8 1602.3,549.9 1603.2,551.3 1604.1,556.0 1604.9,556.2 1605.8,562.4 1606.7,561.8 1607.5,568.1 1608.3,564.7 1609.2,568.4 1610.0,564.8 1610.7,564.0 1611.5,560.1 1612.3,563.9 1613.0,578.8 1613.8,578.5 1614.5,608.2 1615.2,643.6 1616.2,641.6 1617.2,634.7 1618.1,632.9 1618.9,625.5 1619.8,623.1 1620.7,611.5 1621.6,605.9 1622.5,602.9 1623.3,608.7 1624.0,610.2 1624.8,616.5 1625.9,605.7 1627.0,600.6 1627.9,597.7 1628.8,602.0 1629.6,597.8 1630.5,597.0 1631.3,597.6 1632.2,588.4 1633.0,588.5 1633.9,589.8 1634.8,592.6 1635.6,594.2 1636.5,598.5 1637.3,598.2 1638.2,598.0 1639.0,592.5 1639.8,595.2 1640.7,591.7 1641.6,583.5 1642.4,587.0 1643.2,581.7 1644.0,576.7 1644.8,577.9 1645.9,567.0 1647.0,563.5 1647.8,562.8 1648.7,564.0 1649.6,559.5 1650.4,557.7 1651.4,553.5 1652.4,548.6 1653.2,558.8 1654.0,562.2 1654.8,563.5 1655.7,556.7 1656.5,554.9 1657.4,551.0 1658.4,555.4 1659.4,554.6 1660.4,553.7 1661.3,551.7 1662.1,562.3 1663.0,561.3 1663.9,559.6 1664.8,559.4 1665.7,551.2 1666.7,548.4 1667.7,551.5 1668.7,547.2 1669.6,549.1 1670.5,547.5 1671.4,551.8 1672.2,553.7 1673.1,548.1 1673.9,552.5 1674.7,552.3 1675.5,550.5 1676.3,554.7 1677.2,551.1 1678.0,554.2 1678.8,551.3 1679.7,556.3 1680.6,548.4 1681.4,554.2 1682.2,551.7 1683.1,553.5 1683.9,562.5 1684.7,558.2 1685.5,563.7 1686.4,561.2 1687.2,562.3 1688.0,555.6 1688.9,560.5 1689.7,558.3 1690.5,563.2 1691.4,560.2 1692.2,558.9 1693.0,557.3 1693.9,556.3 1694.7,558.1 1695.6,556.8 1696.4,559.1 1697.3,554.8 1698.1,557.5 1699.0,557.8 1699.8,559.3 1700.7,554.8 1701.6,550.4 1702.4,552.7 1703.2,543.3 1703.9,540.3 1704.7,533.6 1705.5,531.0 1706.3,533.8 1707.2,525.8 1708.0,525.6 1708.9,526.8 1709.7,525.4 1710.6,531.3 1711.4,523.0 1712.3,530.0 1713.2,522.6 1714.2,530.9 1715.1,524.7 1716.1,521.7 1717.0,523.2 1717.9,521.9 1718.7,523.2 1719.6,523.4 1720.4,525.8 1721.3,528.5 1722.2,531.2 1723.1,530.3 1723.9,524.4 1724.8,528.8 1725.7,530.8 1726.5,523.8 1727.2,529.6 1728.0,523.6 1728.8,535.6 1729.5,532.3 1730.3,546.2 1731.1,542.5 1731.9,541.7 1732.8,540.5 1733.6,545.0 1734.5,541.5 1735.4,537.5 1736.2,538.5 1737.1,539.7 1738.0,533.4 1738.8,537.7 1739.7,535.4 1740.5,539.4 1741.3,544.0 1742.1,543.2 1742.9,537.5 1743.8,536.8 1744.6,537.1 1745.5,539.6 1746.4,538.2 1747.2,537.2 1748.1,537.4 1749.0,540.2 1750.0,539.5 1751.0,538.4 1752.0,534.6 1753.0,532.1 1754.0,528.4 1755.0,533.6 1756.0,527.4 1757.0,528.9 1757.8,521.0 1758.7,526.2 1759.5,516.4 1760.3,517.6 1761.1,516.8 1761.9,511.2 1762.8,506.3 1763.6,509.7 1764.4,506.8 1765.3,510.5 1766.2,503.6 1767.0,505.8 1767.8,506.8 1768.7,499.1 1769.5,496.7 1770.3,496.2 1771.2,494.4 1772.1,486.3 1773.0,488.6 1773.8,485.3 1774.7,484.2 1775.5,478.5 1776.3,480.7 1777.1,479.5 1777.9,477.0 1778.8,469.9 1779.6,470.6 1780.5,466.2 1781.4,467.8 1782.3,461.4 1783.1,471.2 1783.8,474.5 1784.6,476.1 1785.4,471.1 1786.2,465.4 1787.0,459.8 1787.8,457.3 1788.6,468.4 1789.4,460.5 1790.2,466.0 1791.1,464.3 1792.1,467.6 1793.0,470.8 1793.8,460.4 1794.6,457.8 1795.4,457.0 1796.2,448.5 1797.1,441.6 1798.1,442.9 1799.0,436.4 1800.1,434.9 1801.2,433.6 1802.0,424.5 1802.9,427.4 1803.8,418.4 1804.6,411.7 1805.4,405.4 1806.2,404.0 1807.1,397.8 1807.9,392.5 1808.7,383.5 1809.4,380.1 1810.2,372.1 1811.1,370.2 1811.9,365.7 1812.9,370.7 1813.9,383.7 1814.7,381.7 1815.4,373.0 1816.2,374.6 1817.0,379.7 1817.8,377.8 1818.7,383.2 1819.5,387.5 1820.3,390.1 1821.2,393.2 1822.1,401.7 1822.9,401.8 1823.7,396.7 1824.6,393.1 1825.4,390.6 1826.2,388.0 1827.0,386.8 1827.8,378.4 1828.7,375.0 1829.5,367.0 1830.3,364.2 1831.2,351.8 1832.1,353.3 1832.9,347.6 1833.9,347.7 1834.9,339.1 1835.9,340.8 1836.9,338.5 1837.7,332.4 1838.6,329.7 1839.4,320.6 1840.2,320.2 1841.1,326.5 1841.9,329.2 1842.8,339.3 1843.7,349.0 1844.5,350.2 1845.3,349.6 1846.0,342.0 1846.8,339.1 1847.7,339.4 1848.6,337.1 1849.5,331.6 1850.3,329.6 1851.2,319.8 1852.0,319.4 1852.8,310.6 1853.7,314.8 1854.5,319.9 1855.3,319.0 1856.2,320.9 1857.1,320.9 1857.9,318.6 1858.8,319.6 1859.6,320.4 1860.4,326.2 1861.2,332.0 1862.0,324.8 1862.8,326.8 1863.7,324.7 1864.5,317.9 1865.3,316.0 1866.2,317.8 1867.0,317.2 1867.8,315.5 1868.9,315.5 1870.0,319.2 1870.9,315.1 1871.9,313.0 1872.8,309.3 1873.9,306.3 1875.0,305.6 1875.9,312.3 1876.9,319.2 1877.8,321.6 1878.6,326.3 1879.4,331.0 1880.2,331.2 1881.0,339.2 1881.8,333.7 1882.7,331.1 1883.5,326.9 1884.3,324.0 1885.2,320.7 1886.0,319.3 1886.8,320.0 1887.7,325.2 1888.5,326.2 1889.3,324.7 1890.2,316.6 1891.0,318.3 1891.8,325.1 1892.7,322.8 1893.5,330.5 1894.3,337.4 1895.2,343.7 1896.0,354.8 1896.8,358.1 1897.6,370.7 1898.4,373.4 1899.4,375.8 1900.4,384.6 1901.2,377.6 1902.0,370.9 1902.8,369.9 1903.6,375.9 1904.4,383.9 1905.2,375.1 1906.0,373.2 1906.8,371.3 1907.7,377.4 1908.5,378.6 1909.4,388.0 1910.2,381.9 1911.0,380.1 1911.8,373.3 1912.8,372.8 1913.8,367.1 1914.9,373.1 1916.0,380.5 1916.9,387.2 1917.9,392.5 1918.8,396.2 1919.9,394.0 1921.0,386.8 1921.8,389.0 1922.7,380.5 1923.6,388.6 1924.4,381.1 1925.2,387.3 1926.1,385.3 1926.9,386.9 1927.7,389.4 1928.5,387.8 1929.3,386.6 1930.2,389.5 1931.0,387.3 1931.8,389.6 1932.7,390.3 1933.6,394.0 1934.4,396.4 1935.2,400.5 1936.1,398.2 1936.9,402.7 1937.7,405.0 1939.0,384.6 1939.9,379.1 1940.7,378.9 1941.6,372.2 1942.4,370.4 1943.3,369.5 1944.2,366.5 1945.0,367.9 1945.8,362.0 1946.5,363.2 1947.3,358.2 1948.2,351.4 1949.1,356.3 1950.0,347.1 1950.8,352.3 1951.7,351.5 1952.5,353.9 1953.3,350.2 1954.1,348.4 1954.9,349.2 1955.8,337.5 1956.6,339.2 1957.4,341.5 1958.3,341.3 1959.2,346.0 1960.0,343.6 1960.8,342.6 1961.7,345.7 1962.5,339.4 1963.3,340.1 1964.1,340.5 1964.9,336.8 1965.8,336.7 1966.6,336.9 1967.4,332.6 1968.3,333.0 1969.1,337.5 1969.8,341.4 1970.6,345.3 1971.5,347.0 1972.4,348.2 1973.3,350.2 1974.2,347.6 1975.1,347.3 1976.0,342.5 1976.8,346.0 1977.5,351.2 1978.3,356.9 1979.2,364.7 1980.0,363.8 1980.8,362.1 1981.5,360.6 1982.3,353.5 1983.2,348.7 1984.1,349.3 1985.0,340.3 1985.8,336.1 1986.7,329.1 1987.5,333.1 1988.3,324.9 1989.1,326.3 1989.9,325.6 1990.8,323.3 1991.6,319.4 1992.5,313.9 1993.3,312.4 1994.2,310.0 1995.0,307.7 1995.8,302.8 1996.6,302.6 1997.5,307.3 1998.3,309.2 1999.2,311.1 2000.0,317.0 2000.8,313.4 2001.6,313.6 2002.4,312.9 2003.2,314.1 2004.1,307.4 2004.9,309.1 2005.8,304.3 2006.7,309.3 2007.6,310.9 2008.4,306.9 2009.1,304.5 2009.9,298.9 2010.8,301.9 2011.7,303.6 2012.6,304.2 2013.4,310.3 2014.1,312.4 2014.9,318.1 2015.7,318.4 2016.4,319.2 2017.2,320.6 2018.1,317.9 2019.0,322.4 2019.9,316.7 2020.8,318.2 2021.6,322.0 2022.5,326.9 2023.3,328.1 2024.1,324.4 2024.9,324.1 2025.7,324.8 2026.4,331.6 2027.2,341.0 2028.1,339.1 2029.0,344.6 2029.9,342.5 2030.8,339.0 2031.6,338.8 2032.5,337.2 2033.3,344.7 2034.1,343.1 2034.9,346.1 2035.7,344.6 2036.6,342.3 2037.4,338.1 2038.2,341.5 2039.1,338.9 2040.0,341.4 2040.9,335.9 2041.7,340.5 2042.4,339.6 2043.2,343.9 2044.1,349.4 2045.0,347.6 2045.9,345.8 2046.7,353.4 2047.4,354.6 2048.2,355.8 2049.0,358.7 2049.7,362.2 2050.5,359.4 2051.4,362.1 2052.3,352.9 2053.2,354.9 2054.1,358.3 2054.9,355.2 2055.8,359.6 2056.6,370.8 2057.4,374.1 2058.2,384.1 2059.0,378.4 2059.7,376.8 2060.5,376.3 2061.4,373.4 2062.3,380.2 2063.2,373.6 2064.1,374.1 2064.9,367.9 2065.8,370.3 2066.6,363.7 2067.4,359.4 2068.2,353.6 2069.1,354.3 2069.9,363.0 2070.8,360.6 2071.6,356.9 2072.4,354.0 2073.2,352.8 2074.0,354.5 2074.7,356.7 2075.5,364.1 2076.3,366.0 2077.0,369.7 2077.8,377.4 2078.6,371.1 2079.3,372.5 2080.1,372.6 2080.9,362.4 2081.7,361.1 2082.5,355.7 2083.3,363.2 2084.0,363.4 2084.8,373.2 2085.6,371.7 2086.3,364.8 2087.1,364.8 2088.0,363.5 2088.9,374.7 2089.8,372.6 2090.7,367.8 2091.6,366.9 2092.5,362.1 2093.5,364.2 2094.5,358.2 2095.5,361.3 2096.4,357.8 2097.2,354.2 2098.1,352.6 2099.0,352.1 2099.9,345.9 2100.8,347.9 2101.6,342.3 2102.3,346.8 2103.1,344.9 2103.9,344.7 2104.6,351.2 2105.4,349.2 2106.3,353.7 2107.2,354.3 2108.1,355.9 2108.9,359.1 2109.6,359.9 2110.4,365.9 2111.3,368.5 2112.2,361.7 2113.1,364.0 2114.0,360.7 2114.9,367.2 2115.8,365.9 2116.8,366.2 2117.8,363.6 2118.8,363.7 2119.7,365.8 2120.5,367.4 2121.4,370.6 2122.3,372.5 2123.2,366.7 2124.1,368.2 2124.9,376.6 2125.6,379.2 2126.4,384.1 2127.2,394.1 2128.1,398.4 2128.9,401.2 2129.6,401.9 2130.4,409.1 2131.3,406.9 2132.2,402.1 2133.1,401.4 2134.0,404.5 2134.8,406.0 2135.7,405.6 2136.5,408.6 2137.3,401.9 2138.1,403.8 2139.0,401.3 2139.8,403.2 2140.7,408.0 2141.5,405.1 2142.3,402.2 2143.1,396.6 2144.0,396.4 2144.8,399.8 2145.7,402.4 2146.5,400.6 2147.3,400.4 2148.1,398.5 2148.9,405.3 2149.7,413.6 2150.6,423.5 2151.4,441.1 2152.2,447.6 2152.9,457.0 2153.7,462.1 2154.6,457.8 2155.5,454.6 2156.4,447.4 2157.3,445.7 2158.1,455.5 2159.0,453.3 2159.8,449.4 2160.6,446.5 2161.4,449.4 2162.2,452.3 2162.9,451.9 2163.7,459.4 2164.6,452.6 2165.5,455.5 2166.4,446.7 2167.3,455.8 2168.1,456.5 2169.0,458.4 2169.8,457.9 2170.6,450.3 2171.4,448.9 2172.2,447.1 2172.9,438.6 2173.7,437.1 2174.6,445.4 2175.5,442.6 2176.4,449.5 2177.3,445.2 2178.1,441.9 2179.0,437.2 2180.0,436.6 2181.0,434.6 2182.0,433.5 2182.9,437.9 2183.8,435.6 2184.7,438.2 2185.6,439.9 2186.4,430.3 2187.3,434.3 2188.3,428.2 2189.3,435.1 2190.3,431.9 2191.2,430.9 2192.1,435.9 2193.0,437.6 2193.8,441.6 2194.5,445.4 2195.3,448.9 2196.2,445.7 2197.1,448.6 2198.0,447.7 2198.8,448.4 2199.5,452.9 2200.3,455.4 2201.2,459.0 2202.1,458.2 2203.0,457.1 2203.8,456.7 2204.5,459.9 2205.3,459.4 2206.3,465.1 2207.3,462.1 2208.1,455.0 2208.8,453.4 2209.6,441.5 2210.4,448.5 2211.2,450.2 2212.0,457.5 2212.9,458.1 2213.7,461.9 2214.6,460.2 2215.4,464.9 2216.2,464.9 2217.0,466.3 2217.9,467.0 2218.7,465.0 2219.6,460.0 2220.5,460.1 2221.4,460.7 2222.3,460.6 2223.2,455.7 2224.1,456.3 2225.0,454.7" fill="none" stroke="#333" stroke-width="3.4" stroke-linejoin="round" stroke-linecap="round"/>
<rect x="384.2" y="249.3" width="193.0" height="898.0" fill="rgba(255,30,105,0.165)" stroke="#e2639a" stroke-opacity="0.85" stroke-width="1.2" stroke-dasharray="5 3.5"/>
<rect x="1307" y="249.3" width="100.8" height="898.0" fill="rgba(255,30,105,0.165)" stroke="#e2639a" stroke-opacity="0.85" stroke-width="1.2" stroke-dasharray="5 3.5"/>
<rect x="2198.6" y="249.3" width="27.0" height="898.0" fill="rgba(255,30,105,0.165)" stroke="#e2639a" stroke-opacity="0.85" stroke-width="1.2" stroke-dasharray="5 3.5"/>
<line x1="108.1" x2="2226" y1="585.9" y2="585.9" stroke="#000" stroke-width="3.1" stroke-dasharray="6.3 6.305" stroke-dashoffset="3.2"/>
<line x1="108.1" x2="2226" y1="770.8" y2="770.8" stroke="#000" stroke-width="3.1" stroke-dasharray="6.3 6.305" stroke-dashoffset="3.2"/>
<text class="pc" x="829" y="580.3">30%</text>
<text class="pc" x="829" y="764.6">20%</text>
<circle cx="290.8" cy="771.5" r="24" fill="rgba(255,30,105,0.165)" stroke="#f20c55" stroke-width="2.8" stroke-dasharray="6.8 4.8"/>
<path d="M276.9 807.5 L306.3 735 M291.9 741.3 L306.3 735 L311.9 749.4" fill="none" stroke="#f20c55" stroke-width="3" stroke-linejoin="miter"/>
<circle cx="1236.4" cy="771.5" r="24" fill="rgba(255,30,105,0.165)" stroke="#f20c55" stroke-width="2.8" stroke-dasharray="6.8 4.8"/>
<path d="M1222 807.5 L1252 735 M1237.3 741 L1252 735 L1257.3 749.4" fill="none" stroke="#f20c55" stroke-width="3" stroke-linejoin="miter"/>
<circle cx="2129.4" cy="766" r="24" fill="rgba(255,30,105,0.165)" stroke="#f20c55" stroke-width="2.8" stroke-dasharray="6.8 4.8"/>
<path d="M2115.4 802 L2144.9 729.5 M2130.4 735.5 L2144.9 729.5 L2150.6 743.7" fill="none" stroke="#f20c55" stroke-width="3" stroke-linejoin="miter"/>
<text class="yr" x="292.6" y="277.9" text-anchor="middle">2014-15</text>
<line x1="215" x2="367" y1="285" y2="285" stroke="#f20c55" stroke-width="2.4"/>
<text class="mo cjk" x="245.4" y="314.6">10<tspan dx="0">个月</tspan></text>
<text class="yr" x="1211.7" y="277.6" text-anchor="middle">2018-19</text>
<line x1="1134.2" x2="1286" y1="285" y2="285" stroke="#f20c55" stroke-width="2.4"/>
<text class="mo cjk" x="1170.3" y="314.3">6<tspan dx="3.5">个月</tspan></text>
<text class="yr" x="2114.8" y="270.3" text-anchor="middle">2021-22</text>
<line x1="2036.5" x2="2189.7" y1="277.8" y2="277.8" stroke="#f20c55" stroke-width="2.4"/>
<text class="mo cjk" x="2063.6" y="307.4">1.5<tspan dx="0">个月</tspan></text>
<text class="ax" x="108" y="469.9" text-anchor="end">36%</text>
<text class="ax" x="108" y="695.1999999999999" text-anchor="end">24%</text>
<text class="ax" x="108" y="920.6" text-anchor="end">12%</text>
<text class="ax" x="108" y="1145.9" text-anchor="end">0%</text>
<line x1="2236.6" x2="2236.6" y1="246.8" y2="1149.3" stroke="#222" stroke-width="2.4"/>
<text class="rx" x="2252" y="273.0">$80k</text>
<text class="rx" x="2252" y="364.5">$40k</text>
<text class="rx" x="2252" y="544.5">$10k</text>
<text class="rx" x="2252" y="611.5">$6k</text>
<text class="rx" x="2252" y="754.8">$2k</text>
<text class="rx" x="2252" y="875.0">$800</text>
<text class="rx" x="2252" y="964.5">$400</text>
<text class="rx" x="2252" y="1146.2">$100</text>
<text class="xl" x="143.3" y="1181.3">Jan '14</text>
<text class="xl" x="262.2" y="1181.3">Jul '14</text>
<text class="xl" x="381.1" y="1181.3">Jan '15</text>
<text class="xl" x="500.0" y="1181.3">Jul '15</text>
<text class="xl" x="618.9" y="1181.3">Jan '16</text>
<text class="xl" x="737.8" y="1181.3">Jul '16</text>
<text class="xl" x="856.7" y="1181.3">Jan '17</text>
<text class="xl" x="975.6" y="1181.3">Jul '17</text>
<text class="xl" x="1094.5" y="1181.3">Jan '18</text>
<text class="xl" x="1213.4" y="1181.3">Jul '18</text>
<text class="xl" x="1332.3" y="1181.3">Jan '19</text>
<text class="xl" x="1451.2" y="1181.3">Jul '19</text>
<text class="xl" x="1570.1" y="1181.3">Jan '20</text>
<text class="xl" x="1689.0" y="1181.3">Jul '20</text>
<text class="xl" x="1807.9" y="1181.3">Jan '21</text>
<text class="xl" x="1926.8" y="1181.3">Jul '21</text>
<text class="xl" x="2045.7" y="1181.3">Jan '22</text>
<text class="xl" x="2164.6" y="1181.3">Jul '22</text>
<text id="foot" x="52" y="1316" font-size="21.5" fill="#777" textLength="426.5" lengthAdjust="spacingAndGlyphs">© 2022 Glassnode. All Rights Reserved.</text>
<text id="logo" x="2351.3" y="1321.1" font-size="42" fill="#111" stroke="#111" stroke-width="0.8" letter-spacing="1.2" text-anchor="end">glassnode</text>
</svg>
</body></html>
